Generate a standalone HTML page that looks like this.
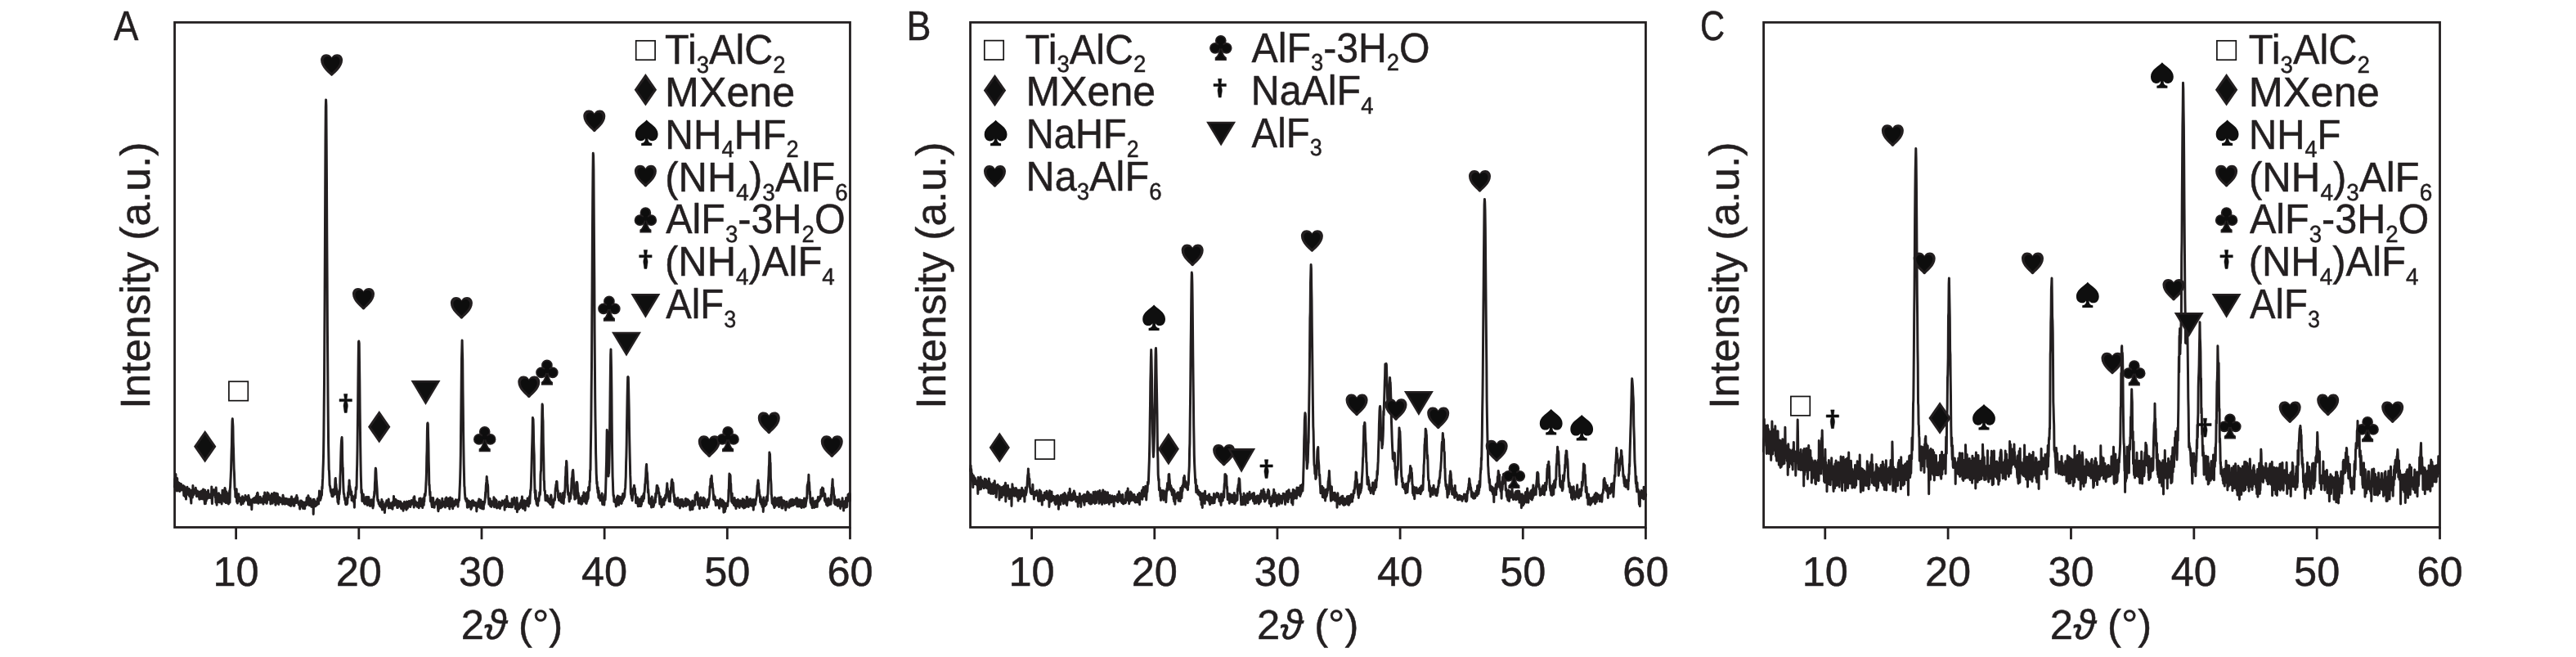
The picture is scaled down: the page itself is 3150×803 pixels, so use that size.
<!DOCTYPE html>
<html><head><meta charset="utf-8"><title>XRD</title>
<style>html,body{margin:0;padding:0;background:#fff}svg{display:block;will-change:transform}text{font-family:"Liberation Sans",sans-serif;fill:#231f20;stroke:#231f20;stroke-width:0.5px;stroke-linejoin:round;text-rendering:geometricPrecision}</style>
</head><body>
<svg width="3150" height="803" viewBox="0 0 3150 803">
<rect width="3150" height="803" fill="#fff"/>
<defs>
<g id="heart"><path d="M0,-9.5 C-1.8,-12.4 -4.2,-13.4 -6.8,-13.4 C-10.8,-13.4 -13.5,-10.2 -13.5,-6 C-13.5,-1.5 -11,2.5 -8,5.8 C-6,8.2 -3.2,10.2 -1.4,12.5 C-0.7,13.6 0.7,13.6 1.4,12.5 C3.2,10.2 6,8.2 8,5.8 C11,2.5 13.5,-1.5 13.5,-6 C13.5,-10.2 10.8,-13.4 6.8,-13.4 C4.2,-13.4 1.8,-12.4 0,-9.5Z" fill="#231f20"/><path d="M0,-9.5 C-1.8,-12.4 -4.2,-13.4 -6.8,-13.4 C-10.8,-13.4 -13.5,-10.2 -13.5,-6 C-13.5,-1.5 -11,2.5 -8,5.8 C-6,8.2 -3.2,10.2 -1.4,12.5 C-0.7,13.6 0.7,13.6 1.4,12.5 C3.2,10.2 6,8.2 8,5.8 C11,2.5 13.5,-1.5 13.5,-6 C13.5,-10.2 10.8,-13.4 6.8,-13.4 C4.2,-13.4 1.8,-12.4 0,-9.5Z" fill="#0d0d0d" transform="translate(0,-0.6) scale(0.74)"/></g>
<path id="spade" d="M0,-15.7 C-3.8,-11 -13.9,-6.8 -13.9,1.5 C-13.9,7 -10.8,9.9 -7.2,9.9 C-4.8,9.9 -2.8,8.9 -1.8,7 C-1.8,10.5 -2.8,12.2 -6.5,12.8 L-6.5,15.7 L6.5,15.7 L6.5,12.8 C2.8,12.2 1.8,10.5 1.8,7 C2.8,8.9 4.8,9.9 7.2,9.9 C10.8,9.9 13.9,7 13.9,1.5 C13.9,-6.8 3.8,-11 0,-15.7Z" fill="#0f0f0f"/>
<g id="club" fill="#0d0d0d" stroke="#231f20" stroke-width="1.7"><path d="M-1.0,-1 L1.0,-1 C1.4,6 2.6,10.4 6.2,12.4 L6.2,14.8 L-6.2,14.8 L-6.2,12.4 C-2.6,10.4 -1.4,6 -1.0,-1Z"/><circle cx="0" cy="-8.6" r="6.0"/><circle cx="-6.9" cy="0.4" r="6.0"/><circle cx="6.9" cy="0.4" r="6.0"/><circle cx="0" cy="-2.2" r="3.2" stroke="none"/></g>
<g id="dia"><path d="M0,-19.7 L13.7,0 L0,19.7 L-13.7,0Z" fill="#231f20"/><path d="M0,-14.6 L10.1,0 L0,14.6 L-10.1,0Z" fill="#0f0f0f"/></g>
<g id="tri"><path d="M-18,-14.9 L18,-14.9 L0,14.9Z" fill="#231f20"/><path d="M-13.6,-12.4 L13.6,-12.4 L0,10.2Z" fill="#0f0f0f"/></g>
<rect id="sq" x="-11.7" y="-11.7" width="23.4" height="23.4" fill="#fff" stroke="#151313" stroke-width="1.7"/>
<path id="dag" d="M-2.2,-11.4 L2.2,-11.4 L1.4,-5.3 L7.7,-5.3 L7.7,-2.2 L1.5,-2.2 C2.4,0 2.7,2 2.65,3.5 L1.5,11.4 L-1.5,11.4 L-2.65,3.5 C-2.7,2 -2.4,0 -1.5,-2.2 L-7.7,-2.2 L-7.7,-5.3 L-1.4,-5.3Z" fill="#0f0f0f" stroke="#0f0f0f" stroke-width="0.5" stroke-linejoin="round"/>
</defs>
<path d="M213.4,595.3 213.7,585.5 214.0,586.1 214.3,584.0 214.6,593.2 214.9,579.5 215.2,598.5 215.5,588.2 215.8,593.9 216.1,591.9 216.4,600.1 216.7,584.6 217.0,592.7 217.3,592.6 217.6,599.5 217.9,589.6 218.2,593.9 218.5,590.9 218.8,595.2 219.1,597.9 219.4,590.4 219.7,600.6 220.0,599.6 220.3,597.8 220.6,599.5 220.9,592.4 221.2,595.1 221.5,591.6 221.8,595.0 222.1,598.9 222.4,593.9 222.7,595.6 223.0,594.7 223.3,594.3 223.6,595.3 223.9,598.3 224.2,593.4 224.5,599.4 224.8,605.8 225.1,601.7 225.4,597.6 225.7,594.7 226.0,595.6 226.3,606.9 226.6,599.9 226.9,597.2 227.2,601.3 227.5,610.1 227.8,601.3 228.1,603.6 228.4,602.1 228.7,599.0 229.0,595.3 229.3,598.7 229.6,599.3 229.9,602.8 230.2,604.0 230.5,604.6 230.8,601.8 231.1,604.6 231.4,597.5 231.7,606.7 232.0,603.8 232.3,600.6 232.6,604.7 232.9,602.9 233.2,609.0 233.5,611.5 233.8,615.1 234.1,599.3 234.4,599.1 234.7,603.1 235.0,605.6 235.3,608.1 235.6,604.8 235.9,593.5 236.2,600.5 236.5,605.0 236.8,601.8 237.1,603.7 237.4,598.9 237.7,598.6 238.0,600.1 238.3,600.9 238.7,599.9 239.0,599.6 239.3,596.3 239.6,601.4 239.9,600.7 240.2,605.9 240.5,606.8 240.8,602.8 241.1,600.7 241.4,600.0 241.7,605.1 242.0,603.8 242.3,602.1 242.6,604.1 242.9,601.2 243.2,607.4 243.5,602.5 243.8,610.3 244.1,607.0 244.4,608.2 244.7,601.0 245.0,607.0 245.3,609.8 245.6,602.2 245.9,605.3 246.2,606.6 246.5,600.1 246.8,607.5 247.1,609.7 247.4,601.9 247.7,607.1 248.0,599.4 248.3,605.0 248.6,597.9 248.9,610.2 249.2,607.1 249.5,605.5 249.8,602.5 250.1,612.2 250.4,615.8 250.7,599.1 251.0,613.5 251.3,615.6 251.6,609.9 251.9,603.1 252.2,612.2 252.5,607.2 252.8,604.9 253.1,601.5 253.4,608.9 253.7,609.3 254.0,602.4 254.3,607.0 254.6,599.2 254.9,607.8 255.2,604.3 255.5,603.4 255.8,603.9 256.1,608.5 256.4,608.2 256.7,607.4 257.0,605.9 257.3,605.8 257.6,608.4 257.9,606.7 258.2,608.8 258.5,604.4 258.8,594.9 259.1,610.5 259.4,615.6 259.7,607.6 260.0,605.0 260.3,604.5 260.6,604.2 260.9,604.3 261.2,598.8 261.5,601.2 261.8,598.8 262.1,604.4 262.4,602.0 262.7,605.7 263.0,602.9 263.3,608.3 263.6,605.1 263.9,614.2 264.2,596.1 264.5,602.1 264.8,609.4 265.1,617.2 265.4,605.2 265.7,607.1 266.0,606.4 266.3,613.8 266.6,606.9 266.9,611.5 267.2,607.0 267.5,602.7 267.8,609.7 268.1,610.4 268.4,613.9 268.7,607.4 269.0,605.1 269.3,610.4 269.6,608.9 269.9,609.1 270.2,607.5 270.5,613.0 270.8,609.3 271.1,616.0 271.4,612.2 271.7,609.9 272.0,599.3 272.3,609.1 272.6,607.9 272.9,609.4 273.2,610.1 273.5,603.4 273.8,608.6 274.1,602.2 274.4,613.3 274.7,598.5 275.0,596.6 275.3,597.3 275.6,601.0 275.9,600.3 276.2,614.6 276.5,604.8 276.8,600.7 277.1,612.2 277.4,605.0 277.7,602.5 278.0,612.4 278.3,611.6 278.6,607.0 278.9,615.4 279.2,609.6 279.5,616.0 279.8,610.6 280.1,614.6 280.4,607.1 280.7,599.7 281.0,614.1 281.3,597.9 281.6,595.0 281.9,587.9 282.2,582.3 282.5,574.5 282.8,563.4 283.1,552.6 283.4,543.7 283.7,526.2 284.0,514.6 284.3,511.8 284.6,516.5 284.9,521.4 285.2,540.6 285.5,548.8 285.8,561.3 286.1,572.8 286.4,577.0 286.7,585.4 287.0,595.4 287.3,598.9 287.6,598.2 287.9,607.5 288.2,599.1 288.5,603.5 288.9,605.0 289.2,597.7 289.5,613.5 289.8,609.0 290.1,604.9 290.4,615.1 290.7,610.6 291.0,610.2 291.3,606.9 291.6,609.1 291.9,603.8 292.2,611.2 292.5,607.5 292.8,609.3 293.1,613.0 293.4,610.5 293.7,610.9 294.0,611.5 294.3,608.7 294.6,614.2 294.9,616.7 295.2,614.3 295.5,614.7 295.8,609.0 296.1,608.8 296.4,606.8 296.7,615.2 297.0,610.3 297.3,615.4 297.6,608.2 297.9,609.0 298.2,610.4 298.5,612.8 298.8,609.7 299.1,609.9 299.4,609.1 299.7,609.6 300.0,605.4 300.3,609.3 300.6,608.6 300.9,609.2 301.2,611.1 301.5,607.5 301.8,609.5 302.1,608.9 302.4,611.2 302.7,612.4 303.0,606.9 303.3,611.8 303.6,616.7 303.9,605.5 304.2,607.9 304.5,608.1 304.8,610.5 305.1,617.1 305.4,612.5 305.7,610.6 306.0,615.1 306.3,611.4 306.6,617.0 306.9,614.3 307.2,617.7 307.5,611.0 307.8,622.7 308.1,615.6 308.4,614.9 308.7,612.6 309.0,610.4 309.3,609.9 309.6,612.1 309.9,609.7 310.2,612.9 310.5,609.1 310.8,613.4 311.1,614.1 311.4,608.5 311.7,614.3 312.0,609.4 312.3,613.7 312.6,611.2 312.9,613.3 313.2,606.4 313.5,609.2 313.8,614.2 314.1,607.7 314.4,603.3 314.7,603.9 315.0,602.3 315.3,603.9 315.6,609.7 315.9,615.3 316.2,610.0 316.5,612.5 316.8,611.1 317.1,611.4 317.4,610.7 317.7,610.6 318.0,612.5 318.3,607.3 318.6,614.3 318.9,614.1 319.2,610.6 319.5,614.1 319.8,609.5 320.1,610.3 320.4,612.9 320.7,612.1 321.0,611.5 321.3,611.0 321.6,611.4 321.9,616.1 322.2,606.6 322.5,613.5 322.8,611.1 323.1,613.8 323.4,612.7 323.7,601.9 324.0,612.4 324.3,611.5 324.6,610.4 324.9,608.7 325.2,612.8 325.5,608.4 325.8,615.2 326.1,610.6 326.4,615.2 326.7,605.5 327.0,602.1 327.3,609.9 327.6,610.4 327.9,607.9 328.2,603.1 328.5,607.0 328.8,610.8 329.1,608.6 329.4,609.2 329.7,609.4 330.0,607.2 330.3,608.6 330.6,605.8 330.9,616.0 331.2,608.7 331.5,611.7 331.8,606.7 332.1,612.2 332.4,603.4 332.7,612.0 333.0,608.6 333.3,615.2 333.6,604.0 333.9,608.2 334.2,609.1 334.5,611.9 334.8,606.9 335.1,608.9 335.4,602.3 335.7,607.0 336.0,611.5 336.3,614.0 336.6,609.7 336.9,617.3 337.2,616.4 337.5,610.5 337.8,602.9 338.1,604.9 338.4,608.0 338.8,614.0 339.1,611.4 339.4,603.6 339.7,609.5 340.0,615.3 340.3,608.8 340.6,607.5 340.9,616.4 341.2,609.9 341.5,608.1 341.8,610.7 342.1,609.7 342.4,608.3 342.7,613.6 343.0,613.4 343.3,612.6 343.6,609.7 343.9,613.8 344.2,610.0 344.5,611.7 344.8,613.5 345.1,612.9 345.4,616.1 345.7,612.0 346.0,605.3 346.3,607.2 346.6,615.5 346.9,610.3 347.2,612.7 347.5,608.8 347.8,614.8 348.1,610.3 348.4,616.2 348.7,609.8 349.0,615.1 349.3,613.8 349.6,609.6 349.9,615.6 350.2,609.5 350.5,610.1 350.8,615.3 351.1,611.1 351.4,611.4 351.7,612.2 352.0,610.1 352.3,616.5 352.6,614.9 352.9,612.4 353.2,612.0 353.5,613.5 353.8,617.5 354.1,614.5 354.4,610.0 354.7,614.2 355.0,611.5 355.3,611.6 355.6,618.5 355.9,611.4 356.2,611.5 356.5,607.0 356.8,608.9 357.1,614.9 357.4,611.3 357.7,615.2 358.0,610.0 358.3,611.1 358.6,615.6 358.9,618.0 359.2,615.1 359.5,616.8 359.8,618.3 360.1,616.0 360.4,609.7 360.7,612.3 361.0,614.7 361.3,611.4 361.6,614.2 361.9,607.7 362.2,610.0 362.5,614.4 362.8,605.6 363.1,609.3 363.4,613.1 363.7,608.0 364.0,614.2 364.3,612.0 364.6,614.2 364.9,614.9 365.2,616.8 365.5,614.8 365.8,617.1 366.1,615.0 366.4,618.6 366.7,622.1 367.0,617.1 367.3,616.7 367.6,612.0 367.9,617.6 368.2,612.6 368.5,612.1 368.8,616.3 369.1,615.1 369.4,618.1 369.7,619.4 370.0,613.4 370.3,615.8 370.6,621.4 370.9,619.1 371.2,618.4 371.5,620.4 371.8,614.3 372.1,618.3 372.4,620.8 372.7,621.6 373.0,613.9 373.3,615.6 373.6,617.6 373.9,615.2 374.2,614.6 374.5,617.6 374.8,613.7 375.1,608.6 375.4,614.9 375.7,612.0 376.0,610.7 376.3,607.8 376.6,616.0 376.9,605.7 377.2,607.5 377.5,612.3 377.8,617.3 378.1,617.7 378.4,610.0 378.7,613.3 379.0,609.2 379.3,617.4 379.6,609.5 379.9,613.9 380.2,617.7 380.5,613.8 380.8,619.3 381.1,611.9 381.4,615.9 381.7,617.7 382.0,614.7 382.3,619.8 382.6,617.4 382.9,610.5 383.2,628.4 383.5,617.6 383.8,615.5 384.1,610.2 384.4,614.4 384.7,612.1 385.0,615.3 385.3,614.1 385.6,618.8 385.9,613.4 386.2,614.8 386.5,614.6 386.8,613.2 387.1,613.2 387.4,617.4 387.7,616.3 388.0,611.6 388.3,609.6 388.6,612.4 389.0,615.7 389.3,611.2 389.6,616.0 389.9,607.1 390.2,609.3 390.5,600.0 390.8,605.5 391.1,605.8 391.4,607.9 391.7,611.3 392.0,605.5 392.3,609.6 392.6,606.4 392.9,606.6 393.2,600.8 393.5,605.1 393.8,595.0 394.1,597.1 394.4,588.5 394.7,584.4 395.0,573.8 395.3,566.1 395.6,553.7 395.9,531.0 396.2,498.0 396.5,469.0 396.8,417.9 397.1,363.7 397.4,300.2 397.7,231.4 398.0,169.3 398.3,130.9 398.6,122.0 398.9,129.0 399.2,174.6 399.5,224.9 399.8,288.0 400.1,338.6 400.4,400.3 400.7,442.1 401.0,484.3 401.3,514.7 401.6,542.2 401.9,558.2 402.2,574.1 402.5,575.8 402.8,583.2 403.1,593.0 403.4,593.5 403.7,595.1 404.0,597.0 404.3,600.5 404.6,598.1 404.9,602.5 405.2,598.7 405.5,601.0 405.8,606.0 406.1,606.7 406.4,600.2 406.7,606.7 407.0,600.9 407.3,606.7 407.6,598.2 407.9,600.5 408.2,601.7 408.5,601.5 408.8,604.4 409.1,599.7 409.4,598.1 409.7,593.0 410.0,585.3 410.3,584.5 410.6,590.8 410.9,591.7 411.2,596.0 411.5,596.9 411.8,604.7 412.1,598.9 412.4,608.2 412.7,607.7 413.0,613.7 413.3,610.3 413.6,610.8 413.9,615.8 414.2,607.4 414.5,610.4 414.8,601.2 415.1,604.4 415.4,600.9 415.7,596.2 416.0,582.7 416.3,577.1 416.6,566.4 416.9,554.4 417.2,545.1 417.5,539.1 417.8,536.3 418.1,534.5 418.4,541.0 418.7,562.7 419.0,571.8 419.3,571.7 419.6,587.0 419.9,595.2 420.2,601.6 420.5,604.0 420.8,603.5 421.1,607.9 421.4,608.3 421.7,611.2 422.0,610.6 422.3,611.5 422.6,615.6 422.9,616.6 423.2,609.1 423.5,611.5 423.8,610.3 424.1,616.4 424.4,611.7 424.7,615.5 425.0,608.1 425.3,608.1 425.6,601.7 425.9,608.0 426.2,600.1 426.5,594.0 426.8,594.4 427.1,587.0 427.4,593.2 427.7,593.8 428.0,595.5 428.3,601.4 428.6,598.1 428.9,604.2 429.2,604.9 429.5,605.3 429.8,600.8 430.1,611.6 430.4,607.7 430.7,609.9 431.0,606.1 431.3,611.2 431.6,610.7 431.9,610.5 432.2,609.9 432.5,613.6 432.8,613.2 433.1,612.2 433.4,620.2 433.7,607.3 434.0,607.5 434.3,604.9 434.6,608.7 434.9,603.9 435.2,595.8 435.5,597.9 435.8,598.1 436.1,594.9 436.4,577.4 436.7,567.0 437.0,550.2 437.3,524.8 437.6,501.0 437.9,469.4 438.2,442.2 438.5,417.9 438.8,417.0 439.2,419.4 439.5,443.9 439.8,466.1 440.1,499.0 440.4,522.8 440.7,545.6 441.0,565.0 441.3,581.0 441.6,590.2 441.9,602.4 442.2,598.3 442.5,601.5 442.8,612.4 443.1,610.4 443.4,603.4 443.7,611.7 444.0,611.3 444.3,604.0 444.6,610.0 444.9,611.4 445.2,614.1 445.5,615.1 445.8,612.8 446.1,616.1 446.4,612.7 446.7,610.6 447.0,610.6 447.3,615.4 447.6,607.4 447.9,615.8 448.2,610.0 448.5,612.3 448.8,615.1 449.1,617.4 449.4,607.4 449.7,611.1 450.0,614.0 450.3,612.0 450.6,616.8 450.9,607.5 451.2,615.5 451.5,615.8 451.8,614.7 452.1,618.2 452.4,610.9 452.7,618.5 453.0,612.8 453.3,617.5 453.6,614.2 453.9,618.0 454.2,617.9 454.5,610.8 454.8,615.0 455.1,615.2 455.4,614.7 455.7,612.8 456.0,620.9 456.3,615.1 456.6,618.5 456.9,610.4 457.2,606.7 457.5,607.4 457.8,600.8 458.1,604.7 458.4,591.2 458.7,587.1 459.0,576.4 459.3,572.3 459.6,573.1 459.9,577.9 460.2,585.5 460.5,589.2 460.8,593.9 461.1,598.1 461.4,605.4 461.7,610.5 462.0,612.1 462.3,611.9 462.6,611.0 462.9,614.0 463.2,616.0 463.5,614.5 463.8,615.4 464.1,614.9 464.4,618.5 464.7,614.2 465.0,616.1 465.3,616.7 465.6,617.6 465.9,619.9 466.2,617.2 466.5,617.0 466.8,610.5 467.1,617.4 467.4,623.1 467.7,613.4 468.0,613.2 468.3,616.2 468.6,620.6 468.9,619.4 469.2,616.5 469.5,618.3 469.8,622.0 470.1,620.9 470.4,626.6 470.7,621.9 471.0,619.6 471.3,620.1 471.6,616.6 471.9,614.2 472.2,617.5 472.5,618.1 472.8,611.8 473.1,614.3 473.4,614.5 473.7,616.4 474.0,614.5 474.3,616.7 474.6,615.6 474.9,618.8 475.2,610.1 475.5,621.1 475.8,620.6 476.1,616.5 476.4,618.7 476.7,618.8 477.0,614.7 477.3,617.8 477.6,619.9 477.9,618.5 478.2,620.9 478.5,617.8 478.8,617.7 479.1,614.8 479.4,615.9 479.7,615.4 480.0,622.2 480.3,617.3 480.6,613.2 480.9,617.6 481.2,615.6 481.5,606.4 481.8,617.7 482.1,611.1 482.4,617.8 482.7,612.7 483.0,610.9 483.3,616.9 483.6,610.3 483.9,613.4 484.2,615.3 484.5,616.4 484.8,616.8 485.1,614.2 485.4,611.7 485.7,620.6 486.0,612.7 486.3,620.6 486.6,613.6 486.9,619.0 487.2,619.0 487.5,612.5 487.8,617.3 488.1,618.7 488.4,618.7 488.7,615.9 489.1,617.6 489.4,615.5 489.7,613.0 490.0,620.0 490.3,615.2 490.6,621.6 490.9,619.4 491.2,614.9 491.5,617.5 491.8,617.4 492.1,615.8 492.4,620.4 492.7,617.5 493.0,624.3 493.3,621.8 493.6,616.2 493.9,618.7 494.2,617.8 494.5,613.3 494.8,620.9 495.1,620.7 495.4,620.4 495.7,615.8 496.0,620.6 496.3,616.5 496.6,620.2 496.9,623.1 497.2,617.9 497.5,613.0 497.8,616.5 498.1,619.5 498.4,621.2 498.7,613.5 499.0,616.2 499.3,617.3 499.6,617.6 499.9,618.8 500.2,612.6 500.5,614.1 500.8,618.7 501.1,616.8 501.4,617.2 501.7,619.6 502.0,616.5 502.3,617.9 502.6,615.2 502.9,611.7 503.2,611.6 503.5,615.7 503.8,614.5 504.1,612.9 504.4,616.0 504.7,612.1 505.0,615.5 505.3,615.2 505.6,612.7 505.9,608.0 506.2,620.1 506.5,616.4 506.8,606.8 507.1,614.0 507.4,616.7 507.7,614.9 508.0,617.6 508.3,612.8 508.6,616.7 508.9,616.0 509.2,615.7 509.5,615.5 509.8,616.9 510.1,619.3 510.4,614.6 510.7,615.1 511.0,617.0 511.3,616.2 511.6,617.8 511.9,619.0 512.2,620.8 512.5,616.3 512.8,609.4 513.1,616.4 513.4,617.8 513.7,616.0 514.0,616.2 514.3,608.9 514.6,618.4 514.9,615.8 515.2,612.1 515.5,614.1 515.8,614.1 516.1,618.5 516.4,618.0 516.7,620.5 517.0,617.1 517.3,610.0 517.6,609.1 517.9,616.6 518.2,617.4 518.5,611.1 518.8,613.1 519.1,605.9 519.4,603.7 519.7,605.1 520.0,605.9 520.3,602.5 520.6,599.0 520.9,591.5 521.2,586.2 521.5,576.9 521.8,558.6 522.1,550.1 522.4,527.7 522.7,517.8 523.0,517.0 523.3,518.6 523.6,533.9 523.9,542.1 524.2,563.3 524.5,573.6 524.8,592.9 525.1,592.3 525.4,599.8 525.7,605.5 526.0,601.1 526.3,612.0 526.6,613.0 526.9,612.8 527.2,608.2 527.5,608.7 527.8,615.9 528.1,618.1 528.4,619.6 528.7,611.7 529.0,611.3 529.3,613.8 529.6,608.4 529.9,612.9 530.2,617.6 530.5,620.1 530.8,615.9 531.1,620.3 531.4,616.4 531.7,615.7 532.0,614.5 532.3,615.6 532.6,614.2 532.9,614.6 533.2,613.0 533.5,616.1 533.8,615.5 534.1,610.9 534.4,615.1 534.7,613.3 535.0,609.7 535.3,618.1 535.6,621.8 535.9,624.7 536.2,622.5 536.5,615.0 536.8,621.7 537.1,621.6 537.4,611.6 537.7,620.5 538.0,619.3 538.3,617.4 538.6,617.3 538.9,616.1 539.3,620.7 539.6,613.9 539.9,614.4 540.2,614.9 540.5,615.8 540.8,609.2 541.1,619.3 541.4,615.5 541.7,616.6 542.0,615.3 542.3,614.0 542.6,613.4 542.9,614.7 543.2,614.7 543.5,617.8 543.8,615.1 544.1,613.4 544.4,620.1 544.7,609.5 545.0,609.3 545.3,614.7 545.6,612.9 545.9,607.9 546.2,612.8 546.5,611.7 546.8,618.0 547.1,612.8 547.4,618.6 547.7,617.2 548.0,615.5 548.3,616.5 548.6,617.9 548.9,609.2 549.2,617.5 549.5,615.1 549.8,621.9 550.1,613.8 550.4,619.7 550.7,608.0 551.0,618.8 551.3,617.2 551.6,615.5 551.9,615.9 552.2,615.2 552.5,617.2 552.8,615.1 553.1,609.5 553.4,614.3 553.7,621.8 554.0,614.7 554.3,615.5 554.6,613.2 554.9,615.4 555.2,615.6 555.5,614.4 555.8,618.2 556.1,612.5 556.4,615.0 556.7,616.9 557.0,614.2 557.3,610.8 557.6,616.2 557.9,611.1 558.2,612.6 558.5,611.3 558.8,613.6 559.1,612.6 559.4,612.4 559.7,616.0 560.0,619.2 560.3,611.9 560.6,614.0 560.9,610.2 561.2,610.2 561.5,611.5 561.8,605.2 562.1,598.2 562.4,592.1 562.7,583.0 563.0,571.3 563.3,555.7 563.6,525.1 563.9,498.4 564.2,469.1 564.5,438.7 564.8,428.0 565.1,416.0 565.4,429.9 565.7,439.7 566.0,476.1 566.3,499.3 566.6,527.8 566.9,549.3 567.2,567.7 567.5,579.9 567.8,594.2 568.1,595.4 568.4,602.8 568.7,606.0 569.0,609.8 569.3,609.2 569.6,610.8 569.9,612.2 570.2,611.2 570.5,613.2 570.8,609.6 571.1,611.0 571.4,620.2 571.7,614.7 572.0,613.0 572.3,620.1 572.6,615.5 572.9,614.3 573.2,611.9 573.5,619.2 573.8,613.3 574.1,615.0 574.4,618.7 574.7,617.0 575.0,615.8 575.3,615.1 575.6,619.2 575.9,622.4 576.2,613.2 576.5,616.5 576.8,620.7 577.1,617.8 577.4,612.1 577.7,612.9 578.0,612.5 578.3,611.7 578.6,612.8 578.9,615.8 579.2,613.2 579.5,618.0 579.8,615.5 580.1,613.7 580.4,617.7 580.7,615.8 581.0,615.5 581.3,618.0 581.6,616.6 581.9,614.6 582.2,618.2 582.5,616.5 582.8,625.0 583.1,619.3 583.4,619.5 583.7,619.9 584.0,615.9 584.3,619.7 584.6,615.4 584.9,612.5 585.2,613.2 585.5,616.6 585.8,609.9 586.1,615.5 586.4,612.5 586.7,617.1 587.0,612.4 587.3,620.8 587.6,617.4 587.9,611.1 588.2,621.0 588.5,615.0 588.8,613.7 589.1,613.1 589.5,618.5 589.8,621.8 590.1,615.3 590.4,614.0 590.7,613.5 591.0,621.7 591.3,621.9 591.6,614.9 591.9,617.0 592.2,614.3 592.5,612.7 592.8,614.2 593.1,610.1 593.4,606.8 593.7,601.3 594.0,600.9 594.3,593.3 594.6,590.6 594.9,588.4 595.2,582.5 595.5,585.9 595.8,587.9 596.1,592.3 596.4,592.0 596.7,595.5 597.0,607.9 597.3,609.5 597.6,611.2 597.9,616.3 598.2,613.5 598.5,613.3 598.8,616.2 599.1,609.4 599.4,612.5 599.7,618.7 600.0,616.6 600.3,612.4 600.6,618.5 600.9,619.4 601.2,618.2 601.5,615.8 601.8,613.0 602.1,615.9 602.4,616.7 602.7,614.0 603.0,616.9 603.3,615.7 603.6,615.5 603.9,607.8 604.2,617.6 604.5,619.7 604.8,612.9 605.1,609.6 605.4,616.5 605.7,613.2 606.0,611.8 606.3,619.1 606.6,611.1 606.9,618.1 607.2,612.0 607.5,621.0 607.8,618.2 608.1,615.9 608.4,617.4 608.7,619.0 609.0,620.0 609.3,620.1 609.6,619.3 609.9,616.0 610.2,619.7 610.5,613.3 610.8,620.6 611.1,620.0 611.4,621.5 611.7,615.0 612.0,617.2 612.3,619.0 612.6,616.9 612.9,614.2 613.2,616.1 613.5,615.0 613.8,617.6 614.1,612.1 614.4,614.9 614.7,614.6 615.0,615.9 615.3,613.1 615.6,613.7 615.9,613.2 616.2,613.7 616.5,613.8 616.8,613.0 617.1,623.3 617.4,611.7 617.7,610.8 618.0,611.9 618.3,612.1 618.6,614.2 618.9,618.7 619.2,619.5 619.5,615.1 619.8,606.6 620.1,616.3 620.4,611.4 620.7,614.5 621.0,612.8 621.3,618.2 621.6,615.0 621.9,619.5 622.2,618.6 622.5,616.2 622.8,617.0 623.1,619.5 623.4,615.2 623.7,619.2 624.0,616.1 624.3,616.8 624.6,618.3 624.9,619.8 625.2,617.0 625.5,615.3 625.8,617.1 626.1,609.7 626.4,619.7 626.7,610.2 627.0,617.3 627.3,612.7 627.6,616.3 627.9,614.4 628.2,615.9 628.5,612.5 628.8,608.2 629.1,616.5 629.4,613.3 629.7,613.1 630.0,612.9 630.3,621.7 630.6,613.6 630.9,616.7 631.2,612.2 631.5,621.0 631.8,614.6 632.1,608.4 632.4,625.8 632.7,614.0 633.0,622.0 633.3,620.5 633.6,620.5 633.9,617.8 634.2,619.1 634.5,622.3 634.8,617.1 635.1,618.4 635.4,620.1 635.7,616.9 636.0,614.8 636.3,620.4 636.6,616.5 636.9,614.7 637.2,612.4 637.5,611.5 637.8,617.3 638.1,617.3 638.4,607.0 638.7,611.8 639.0,616.7 639.4,621.4 639.7,620.6 640.0,617.0 640.3,618.7 640.6,613.1 640.9,617.7 641.2,611.8 641.5,614.4 641.8,617.5 642.1,623.7 642.4,619.3 642.7,617.8 643.0,616.3 643.3,612.4 643.6,618.2 643.9,614.8 644.2,616.2 644.5,612.1 644.8,614.8 645.1,609.0 645.4,615.0 645.7,617.2 646.0,615.5 646.3,618.9 646.6,612.7 646.9,612.7 647.2,612.1 647.5,606.7 647.8,615.3 648.1,610.0 648.4,604.0 648.7,599.0 649.0,599.6 649.3,594.8 649.6,584.9 649.9,575.3 650.2,562.4 650.5,549.8 650.8,540.5 651.1,528.5 651.4,510.5 651.7,512.8 652.0,512.2 652.3,521.1 652.6,540.2 652.9,549.8 653.2,556.2 653.5,580.5 653.8,592.4 654.1,602.5 654.4,600.3 654.7,610.0 655.0,599.5 655.3,606.2 655.6,612.3 655.9,612.8 656.2,616.1 656.5,615.3 656.8,612.3 657.1,617.6 657.4,614.9 657.7,618.1 658.0,609.6 658.3,612.5 658.6,609.3 658.9,612.3 659.2,608.0 659.5,606.6 659.8,601.7 660.1,605.0 660.4,604.7 660.7,600.1 661.0,580.8 661.3,576.1 661.6,575.6 661.9,553.5 662.2,536.6 662.5,523.4 662.8,505.5 663.1,494.1 663.4,495.4 663.7,510.7 664.0,514.9 664.3,540.7 664.6,552.6 664.9,567.8 665.2,586.9 665.5,588.2 665.8,599.5 666.1,600.2 666.4,599.9 666.7,605.9 667.0,611.6 667.3,608.3 667.6,611.5 667.9,610.9 668.2,611.0 668.5,610.0 668.8,612.1 669.1,605.4 669.4,610.6 669.7,606.2 670.0,612.8 670.3,612.9 670.6,609.0 670.9,614.0 671.2,612.7 671.5,612.4 671.8,610.5 672.1,613.4 672.4,615.5 672.7,610.4 673.0,610.1 673.3,616.8 673.6,605.8 673.9,605.1 674.2,607.9 674.5,614.5 674.8,614.7 675.1,616.1 675.4,615.0 675.7,619.9 676.0,620.1 676.3,618.7 676.6,611.2 676.9,615.8 677.2,611.4 677.5,611.9 677.8,609.3 678.1,611.3 678.4,611.3 678.7,607.6 679.0,600.9 679.3,596.7 679.6,595.8 679.9,592.3 680.2,594.3 680.5,588.6 680.8,588.3 681.1,589.1 681.4,595.2 681.7,599.8 682.0,599.2 682.3,600.2 682.6,608.2 682.9,607.2 683.2,606.0 683.5,611.5 683.8,609.5 684.1,604.5 684.4,611.2 684.7,610.4 685.0,603.7 685.3,603.2 685.6,610.9 685.9,613.2 686.2,613.4 686.5,607.5 686.8,611.0 687.1,614.3 687.4,607.1 687.7,612.0 688.0,612.0 688.3,613.8 688.6,602.4 688.9,610.2 689.2,615.5 689.6,606.2 689.9,606.0 690.2,608.2 690.5,600.0 690.8,602.3 691.1,595.4 691.4,582.7 691.7,581.6 692.0,570.5 692.3,573.7 692.6,563.5 692.9,564.7 693.2,571.2 693.5,578.2 693.8,591.3 694.1,592.8 694.4,598.6 694.7,604.8 695.0,601.8 695.3,603.8 695.6,604.0 695.9,609.9 696.2,613.0 696.5,608.8 696.8,606.1 697.1,606.4 697.4,604.2 697.7,609.5 698.0,602.6 698.3,603.4 698.6,597.6 698.9,591.5 699.2,584.6 699.5,584.4 699.8,582.5 700.1,576.7 700.4,575.5 700.7,574.5 701.0,579.2 701.3,584.3 701.6,594.0 701.9,604.7 702.2,601.6 702.5,600.3 702.8,610.2 703.1,603.4 703.4,607.7 703.7,602.8 704.0,601.9 704.3,609.3 704.6,592.2 704.9,589.4 705.2,590.5 705.5,589.2 705.8,590.1 706.1,592.6 706.4,600.5 706.7,605.7 707.0,602.2 707.3,604.0 707.6,615.1 707.9,605.9 708.2,613.5 708.5,613.2 708.8,608.7 709.1,615.0 709.4,609.3 709.7,609.6 710.0,608.7 710.3,615.8 710.6,611.6 710.9,616.2 711.2,609.7 711.5,613.7 711.8,615.5 712.1,610.0 712.4,605.9 712.7,607.7 713.0,612.2 713.3,610.1 713.6,606.2 713.9,601.7 714.2,609.6 714.5,612.7 714.8,612.9 715.1,609.3 715.4,607.6 715.7,605.9 716.0,606.6 716.3,603.2 716.6,615.2 716.9,608.0 717.2,615.4 717.5,607.2 717.8,601.8 718.1,612.5 718.4,603.3 718.7,604.0 719.0,609.8 719.3,608.2 719.6,595.8 719.9,600.7 720.2,595.3 720.5,598.2 720.8,599.3 721.1,588.0 721.4,589.3 721.7,574.5 722.0,574.7 722.3,551.7 722.6,534.7 722.9,513.0 723.2,476.7 723.5,448.1 723.8,395.2 724.1,351.0 724.4,293.5 724.7,249.6 725.0,210.4 725.3,187.3 725.6,190.1 725.9,206.9 726.2,254.1 726.5,298.3 726.8,340.2 727.1,405.1 727.4,444.8 727.7,486.4 728.0,511.9 728.3,529.6 728.6,553.9 728.9,564.9 729.2,578.5 729.5,584.1 729.8,591.4 730.1,588.7 730.4,597.1 730.7,597.3 731.0,602.2 731.3,595.8 731.6,600.8 731.9,608.2 732.2,599.7 732.5,606.5 732.8,609.0 733.1,605.2 733.4,608.9 733.7,609.5 734.0,611.7 734.3,606.0 734.6,607.3 734.9,610.9 735.2,606.5 735.5,609.6 735.8,607.7 736.1,603.0 736.4,611.8 736.7,616.4 737.0,609.8 737.3,611.2 737.6,609.4 737.9,608.3 738.2,610.9 738.5,613.7 738.8,617.1 739.1,612.3 739.4,606.2 739.8,603.9 740.1,611.0 740.4,604.7 740.7,596.0 741.0,585.4 741.3,573.2 741.6,563.6 741.9,543.0 742.2,525.5 742.5,527.3 742.8,529.6 743.1,539.4 743.4,557.2 743.7,566.5 744.0,582.1 744.3,578.6 744.6,578.2 744.9,568.1 745.2,556.0 745.5,533.6 745.8,508.6 746.1,480.9 746.4,455.3 746.7,434.0 747.0,427.1 747.3,439.6 747.6,454.6 747.9,479.0 748.2,516.4 748.5,546.3 748.8,563.4 749.1,582.2 749.4,589.0 749.7,599.0 750.0,605.0 750.3,606.7 750.6,605.4 750.9,613.3 751.2,609.4 751.5,612.5 751.8,611.4 752.1,613.5 752.4,614.2 752.7,610.9 753.0,614.6 753.3,619.0 753.6,618.5 753.9,614.6 754.2,617.5 754.5,607.8 754.8,616.6 755.1,612.0 755.4,606.0 755.7,612.1 756.0,614.5 756.3,609.0 756.6,617.3 756.9,615.4 757.2,607.0 757.5,614.3 757.8,611.6 758.1,609.6 758.4,610.5 758.7,610.2 759.0,607.8 759.3,610.1 759.6,613.5 759.9,615.4 760.2,615.0 760.5,607.9 760.8,608.9 761.1,606.1 761.4,612.0 761.7,603.4 762.0,604.3 762.3,606.8 762.6,609.6 762.9,607.5 763.2,608.0 763.5,607.0 763.8,605.9 764.1,599.3 764.4,597.9 764.7,595.9 765.0,588.4 765.3,582.3 765.6,565.5 765.9,557.4 766.2,543.5 766.5,520.8 766.8,503.8 767.1,485.8 767.4,471.6 767.7,460.7 768.0,460.5 768.3,461.4 768.6,473.3 768.9,487.2 769.2,501.0 769.5,524.4 769.8,540.0 770.1,554.5 770.4,567.0 770.7,580.4 771.0,586.9 771.3,601.4 771.6,604.3 771.9,601.2 772.2,606.3 772.5,608.8 772.8,605.2 773.1,611.8 773.4,608.5 773.7,604.4 774.0,597.7 774.3,598.5 774.6,600.6 774.9,596.1 775.2,596.0 775.5,593.3 775.8,597.7 776.1,597.7 776.4,597.0 776.7,603.6 777.0,605.3 777.3,604.0 777.6,614.8 777.9,610.8 778.2,610.5 778.5,614.2 778.8,611.7 779.1,614.7 779.4,607.9 779.7,609.7 780.0,615.3 780.3,618.8 780.6,614.7 780.9,615.7 781.2,612.8 781.5,615.7 781.8,613.7 782.1,615.7 782.4,618.6 782.7,609.8 783.0,616.7 783.3,613.2 783.6,613.2 783.9,618.4 784.2,615.0 784.5,616.4 784.8,607.1 785.1,610.8 785.4,610.0 785.7,609.0 786.0,611.7 786.3,612.5 786.6,605.4 786.9,605.1 787.2,603.2 787.5,609.5 787.8,602.5 788.1,601.5 788.4,597.7 788.7,591.7 789.0,591.3 789.3,586.0 789.7,582.3 790.0,573.6 790.3,569.8 790.6,567.5 790.9,575.3 791.2,577.1 791.5,578.7 791.8,586.5 792.1,588.2 792.4,602.0 792.7,598.1 793.0,602.6 793.3,605.7 793.6,614.6 793.9,611.3 794.2,615.4 794.5,612.3 794.8,609.3 795.1,616.1 795.4,611.9 795.7,609.9 796.0,613.0 796.3,616.4 796.6,620.1 796.9,609.9 797.2,607.1 797.5,616.8 797.8,614.5 798.1,611.6 798.4,614.6 798.7,615.6 799.0,619.5 799.3,613.1 799.6,617.7 799.9,612.2 800.2,611.9 800.5,614.6 800.8,609.1 801.1,607.8 801.4,614.0 801.7,603.2 802.0,608.2 802.3,604.9 802.6,602.7 802.9,597.6 803.2,593.4 803.5,596.1 803.8,593.5 804.1,595.5 804.4,597.6 804.7,596.2 805.0,596.7 805.3,602.9 805.6,601.4 805.9,602.5 806.2,606.1 806.5,609.3 806.8,616.1 807.1,615.3 807.4,606.8 807.7,607.1 808.0,612.0 808.3,614.0 808.6,612.1 808.9,619.8 809.2,616.8 809.5,618.5 809.8,612.1 810.1,610.7 810.4,610.3 810.7,613.5 811.0,609.9 811.3,612.0 811.6,612.6 811.9,616.8 812.2,611.9 812.5,608.3 812.8,610.6 813.1,611.6 813.4,611.6 813.7,605.3 814.0,608.6 814.3,609.1 814.6,604.3 814.9,601.7 815.2,597.8 815.5,596.0 815.8,590.8 816.1,599.3 816.4,597.0 816.7,600.0 817.0,602.9 817.3,600.7 817.6,608.3 817.9,606.9 818.2,612.6 818.5,609.2 818.8,610.0 819.1,607.9 819.4,612.9 819.7,600.2 820.0,603.5 820.3,602.0 820.6,595.5 820.9,595.0 821.2,587.7 821.5,592.8 821.8,586.0 822.1,591.1 822.4,589.8 822.7,589.8 823.0,590.0 823.3,595.6 823.6,601.6 823.9,602.8 824.2,607.5 824.5,604.8 824.8,614.0 825.1,609.3 825.4,608.4 825.7,616.0 826.0,616.8 826.3,612.7 826.6,611.8 826.9,616.6 827.2,611.1 827.5,617.1 827.8,609.8 828.1,614.1 828.4,614.4 828.7,618.3 829.0,608.6 829.3,615.3 829.6,614.3 829.9,614.9 830.2,612.3 830.5,611.3 830.8,614.3 831.1,615.2 831.4,620.9 831.7,616.5 832.0,616.1 832.3,618.1 832.6,610.5 832.9,617.6 833.2,618.0 833.5,617.6 833.8,613.4 834.1,610.4 834.4,611.1 834.7,614.9 835.0,615.9 835.3,618.3 835.6,619.1 835.9,617.1 836.2,614.4 836.5,615.2 836.8,613.6 837.1,617.7 837.4,616.2 837.7,614.9 838.0,610.3 838.3,617.7 838.6,609.6 838.9,618.6 839.2,618.1 839.5,610.0 839.9,615.1 840.2,611.3 840.5,614.8 840.8,617.0 841.1,614.7 841.4,610.8 841.7,616.0 842.0,616.1 842.3,615.3 842.6,612.3 842.9,614.7 843.2,617.0 843.5,615.9 843.8,623.3 844.1,617.6 844.4,616.3 844.7,618.7 845.0,613.7 845.3,618.7 845.6,622.6 845.9,614.6 846.2,618.4 846.5,619.8 846.8,611.9 847.1,622.5 847.4,613.7 847.7,615.7 848.0,617.6 848.3,615.2 848.6,618.0 848.9,615.3 849.2,616.0 849.5,613.6 849.8,617.1 850.1,604.9 850.4,611.4 850.7,608.0 851.0,604.6 851.3,603.9 851.6,603.7 851.9,606.7 852.2,601.8 852.5,604.4 852.8,606.6 853.1,603.1 853.4,611.6 853.7,617.1 854.0,608.4 854.3,614.7 854.6,611.8 854.9,615.3 855.2,613.7 855.5,621.8 855.8,614.0 856.1,617.8 856.4,617.2 856.7,611.7 857.0,608.1 857.3,616.7 857.6,617.4 857.9,612.9 858.2,612.5 858.5,617.7 858.8,617.3 859.1,617.7 859.4,615.5 859.7,612.2 860.0,610.8 860.3,608.3 860.6,614.5 860.9,620.8 861.2,616.1 861.5,614.3 861.8,609.7 862.1,612.5 862.4,614.7 862.7,614.2 863.0,618.0 863.3,614.8 863.6,617.8 863.9,615.4 864.2,615.2 864.5,619.9 864.8,613.3 865.1,614.5 865.4,610.8 865.7,614.6 866.0,616.8 866.3,614.3 866.6,613.0 866.9,612.2 867.2,608.6 867.5,606.4 867.8,602.3 868.1,594.6 868.4,596.1 868.7,594.1 869.0,585.3 869.3,586.6 869.6,588.1 869.9,583.4 870.2,581.5 870.5,588.0 870.8,595.6 871.1,590.5 871.4,596.0 871.7,596.7 872.0,600.4 872.3,604.6 872.6,610.5 872.9,605.1 873.2,606.6 873.5,607.3 873.8,607.6 874.1,607.0 874.4,609.9 874.7,612.9 875.0,613.8 875.3,617.7 875.6,611.5 875.9,611.6 876.2,611.7 876.5,614.7 876.8,613.5 877.1,616.5 877.4,611.5 877.7,617.1 878.0,617.3 878.3,613.6 878.6,612.6 878.9,615.3 879.2,612.3 879.5,621.3 879.8,615.4 880.1,617.6 880.4,611.1 880.7,609.8 881.0,617.7 881.3,617.4 881.6,613.5 881.9,614.2 882.2,613.9 882.5,616.8 882.8,619.0 883.1,611.1 883.4,617.7 883.7,613.5 884.0,614.8 884.3,616.3 884.6,612.6 884.9,626.3 885.2,625.1 885.5,619.9 885.8,619.7 886.1,614.4 886.4,625.5 886.7,618.0 887.0,617.7 887.3,622.0 887.6,618.9 887.9,615.4 888.2,617.0 888.5,616.1 888.8,617.0 889.1,618.0 889.4,617.1 889.7,618.4 890.1,612.6 890.4,613.4 890.7,612.4 891.0,598.5 891.3,599.0 891.6,586.9 891.9,579.1 892.2,584.0 892.5,580.6 892.8,580.2 893.1,581.6 893.4,594.0 893.7,591.1 894.0,601.4 894.3,607.3 894.6,613.2 894.9,606.4 895.2,602.9 895.5,613.8 895.8,614.9 896.1,614.6 896.4,611.4 896.7,614.2 897.0,609.5 897.3,615.9 897.6,617.6 897.9,612.5 898.2,608.6 898.5,614.7 898.8,614.5 899.1,614.9 899.4,619.3 899.7,615.5 900.0,621.6 900.3,616.1 900.6,611.5 900.9,618.7 901.2,614.9 901.5,613.8 901.8,616.3 902.1,615.9 902.4,610.5 902.7,612.7 903.0,619.0 903.3,615.7 903.6,617.0 903.9,618.0 904.2,620.4 904.5,612.6 904.8,612.4 905.1,611.8 905.4,613.0 905.7,612.3 906.0,615.5 906.3,615.6 906.6,618.2 906.9,612.8 907.2,614.8 907.5,618.2 907.8,619.4 908.1,609.8 908.4,615.4 908.7,616.5 909.0,610.7 909.3,618.6 909.6,621.0 909.9,610.9 910.2,612.0 910.5,619.9 910.8,620.4 911.1,612.5 911.4,613.1 911.7,618.0 912.0,614.6 912.3,613.2 912.6,619.3 912.9,614.5 913.2,607.2 913.5,613.4 913.8,607.8 914.1,614.6 914.4,615.5 914.7,613.9 915.0,615.8 915.3,619.4 915.6,615.7 915.9,612.4 916.2,610.4 916.5,614.9 916.8,611.1 917.1,610.1 917.4,613.6 917.7,609.8 918.0,611.8 918.3,618.1 918.6,615.4 918.9,616.4 919.2,617.6 919.5,611.6 919.8,618.5 920.1,617.9 920.4,617.6 920.7,618.6 921.0,610.4 921.3,623.3 921.6,616.1 921.9,612.3 922.2,617.1 922.5,612.5 922.8,616.4 923.1,617.4 923.4,610.6 923.7,616.4 924.0,612.7 924.3,611.7 924.6,609.8 924.9,607.9 925.2,607.2 925.5,603.7 925.8,599.8 926.1,593.3 926.4,594.5 926.7,590.4 927.0,587.0 927.3,592.1 927.6,590.8 927.9,599.5 928.2,598.3 928.5,601.3 928.8,606.3 929.1,604.9 929.4,607.6 929.7,613.9 930.0,607.2 930.3,609.8 930.6,612.9 930.9,616.3 931.2,614.8 931.5,610.4 931.8,611.1 932.1,619.4 932.4,614.9 932.7,611.7 933.0,612.0 933.3,625.4 933.6,617.5 933.9,607.9 934.2,611.5 934.5,615.2 934.8,611.9 935.1,616.4 935.4,618.4 935.7,612.8 936.0,613.7 936.3,612.1 936.6,615.2 936.9,616.8 937.2,614.5 937.5,607.3 937.8,612.2 938.1,606.7 938.4,612.2 938.7,605.3 939.0,603.2 939.3,594.4 939.6,587.5 940.0,580.8 940.3,570.6 940.6,567.6 940.9,552.9 941.2,556.6 941.5,554.9 941.8,565.7 942.1,565.6 942.4,584.5 942.7,587.9 943.0,592.2 943.3,604.1 943.6,605.5 943.9,610.0 944.2,615.1 944.5,609.1 944.8,611.1 945.1,614.4 945.4,616.5 945.7,612.8 946.0,612.8 946.3,618.1 946.6,619.0 946.9,620.5 947.2,615.2 947.5,608.0 947.8,618.0 948.1,618.8 948.4,611.6 948.7,616.5 949.0,616.9 949.3,616.9 949.6,614.1 949.9,615.6 950.2,617.0 950.5,609.1 950.8,617.5 951.1,613.3 951.4,616.8 951.7,612.0 952.0,608.7 952.3,618.0 952.6,619.5 952.9,608.3 953.2,610.2 953.5,614.7 953.8,611.1 954.1,617.0 954.4,612.1 954.7,613.0 955.0,615.4 955.3,607.7 955.6,613.5 955.9,620.9 956.2,616.2 956.5,611.1 956.8,617.6 957.1,621.0 957.4,618.6 957.7,612.9 958.0,612.9 958.3,614.0 958.6,612.1 958.9,615.7 959.2,612.6 959.5,613.2 959.8,617.1 960.1,614.4 960.4,615.8 960.7,623.5 961.0,618.0 961.3,620.9 961.6,618.7 961.9,619.4 962.2,613.3 962.5,616.0 962.8,616.9 963.1,616.3 963.4,617.0 963.7,618.0 964.0,616.7 964.3,619.5 964.6,616.3 964.9,620.3 965.2,616.5 965.5,614.3 965.8,611.8 966.1,612.9 966.4,614.2 966.7,618.7 967.0,610.8 967.3,618.4 967.6,615.0 967.9,613.0 968.2,611.8 968.5,618.1 968.8,610.3 969.1,615.0 969.4,614.9 969.7,615.5 970.0,617.6 970.3,613.4 970.6,615.5 970.9,610.9 971.2,614.9 971.5,616.6 971.8,613.5 972.1,615.9 972.4,615.2 972.7,613.9 973.0,614.9 973.3,614.6 973.6,609.0 973.9,610.5 974.2,616.7 974.5,608.7 974.8,619.0 975.1,610.8 975.4,615.4 975.7,616.8 976.0,613.3 976.3,619.0 976.6,610.8 976.9,618.0 977.2,615.5 977.5,614.4 977.8,618.0 978.1,616.4 978.4,610.8 978.7,619.2 979.0,618.0 979.3,615.3 979.6,615.6 979.9,619.4 980.2,620.5 980.5,617.2 980.8,611.5 981.1,615.6 981.4,617.9 981.7,612.7 982.0,611.7 982.3,615.8 982.6,616.3 982.9,617.2 983.2,620.0 983.5,609.1 983.8,616.4 984.1,615.4 984.4,616.0 984.7,616.3 985.0,618.7 985.3,616.6 985.6,613.8 985.9,612.8 986.2,611.0 986.5,607.6 986.8,609.1 987.1,594.9 987.4,592.4 987.7,597.9 988.0,591.0 988.3,588.7 988.6,589.5 988.9,580.3 989.2,593.9 989.5,589.2 989.8,593.8 990.2,604.2 990.5,600.8 990.8,609.2 991.1,614.4 991.4,609.6 991.7,611.0 992.0,615.9 992.3,617.3 992.6,615.9 992.9,610.2 993.2,620.7 993.5,617.9 993.8,608.7 994.1,613.6 994.4,613.3 994.7,614.3 995.0,617.6 995.3,614.4 995.6,620.5 995.9,620.0 996.2,616.5 996.5,612.8 996.8,616.0 997.1,617.2 997.4,619.4 997.7,614.1 998.0,615.6 998.3,611.9 998.6,613.4 998.9,618.3 999.2,619.4 999.5,612.9 999.8,612.7 1000.1,610.6 1000.4,607.5 1000.7,612.9 1001.0,612.4 1001.3,612.0 1001.6,609.2 1001.9,609.9 1002.2,607.9 1002.5,610.5 1002.8,606.8 1003.1,609.5 1003.4,607.5 1003.7,604.4 1004.0,598.5 1004.3,603.4 1004.6,602.1 1004.9,606.7 1005.2,602.4 1005.5,596.1 1005.8,597.1 1006.1,602.9 1006.4,599.6 1006.7,596.9 1007.0,603.0 1007.3,603.9 1007.6,602.8 1007.9,606.9 1008.2,604.7 1008.5,612.0 1008.8,603.5 1009.1,610.9 1009.4,612.0 1009.7,613.7 1010.0,610.0 1010.3,609.6 1010.6,617.0 1010.9,613.7 1011.2,610.5 1011.5,615.4 1011.8,618.2 1012.1,615.6 1012.4,611.4 1012.7,617.0 1013.0,609.1 1013.3,616.5 1013.6,617.2 1013.9,613.3 1014.2,614.9 1014.5,614.6 1014.8,612.4 1015.1,611.2 1015.4,612.7 1015.7,610.8 1016.0,616.3 1016.3,605.1 1016.6,612.4 1016.9,602.5 1017.2,597.0 1017.5,594.2 1017.8,590.0 1018.1,585.8 1018.4,595.8 1018.7,595.2 1019.0,596.4 1019.3,598.5 1019.6,604.3 1019.9,604.9 1020.2,615.3 1020.5,606.7 1020.8,610.8 1021.1,611.8 1021.4,616.7 1021.7,616.3 1022.0,615.1 1022.3,615.1 1022.6,616.9 1022.9,612.9 1023.2,616.9 1023.5,610.9 1023.8,616.8 1024.1,613.3 1024.4,618.5 1024.7,610.9 1025.0,613.4 1025.3,612.2 1025.6,617.9 1025.9,610.5 1026.2,617.9 1026.5,616.7 1026.8,617.2 1027.1,613.3 1027.4,617.2 1027.7,621.4 1028.0,613.8 1028.3,616.9 1028.6,615.4 1028.9,612.8 1029.2,613.8 1029.5,618.2 1029.8,616.4 1030.1,608.7 1030.4,618.3 1030.7,615.6 1031.0,619.6 1031.3,614.7 1031.6,624.1 1031.9,613.7 1032.2,619.1 1032.5,613.1 1032.8,617.0 1033.1,612.5 1033.4,619.9 1033.7,615.6 1034.0,620.2 1034.3,614.3 1034.6,608.6 1034.9,610.3 1035.2,610.9 1035.5,615.8 1035.8,619.4 1036.1,609.6 1036.4,610.3 1036.7,612.7 1037.0,604.5 1037.3,606.7 1037.6,609.4 1037.9,608.0 1038.2,606.3 1038.5,603.2 1038.8,606.5 1039.1,608.3 1039.4,603.5 1039.5,605.9 1039.5,612.1" fill="none" stroke="#231f20" stroke-width="3" stroke-linejoin="round" stroke-linecap="round"/><path d="M1186.5,573.2 1186.8,576.3 1187.1,569.1 1187.4,586.5 1187.7,573.5 1188.0,578.7 1188.3,585.4 1188.6,578.9 1188.9,580.5 1189.2,581.7 1189.5,588.5 1189.8,595.7 1190.1,586.1 1190.4,581.2 1190.7,588.2 1191.0,583.5 1191.3,586.1 1191.6,591.4 1191.9,583.8 1192.2,587.7 1192.5,584.8 1192.8,588.8 1193.1,591.5 1193.4,587.3 1193.7,590.9 1194.0,592.1 1194.3,591.0 1194.6,589.1 1194.9,588.3 1195.2,593.7 1195.5,593.2 1195.8,603.4 1196.1,583.5 1196.4,593.9 1196.7,594.6 1197.0,598.5 1197.3,594.6 1197.6,588.6 1197.9,591.9 1198.2,593.9 1198.5,590.0 1198.8,594.3 1199.1,583.1 1199.4,598.0 1199.7,596.8 1200.0,589.2 1200.3,593.1 1200.6,590.6 1200.9,586.9 1201.2,590.7 1201.5,594.6 1201.8,588.8 1202.1,589.0 1202.4,590.4 1202.7,592.8 1203.0,596.7 1203.3,589.0 1203.6,594.3 1203.9,593.5 1204.2,585.3 1204.5,591.9 1204.8,593.5 1205.1,594.3 1205.4,596.0 1205.7,586.1 1206.0,594.8 1206.3,591.5 1206.6,588.0 1206.9,596.0 1207.2,596.7 1207.5,590.8 1207.8,597.2 1208.1,592.4 1208.4,594.7 1208.7,590.4 1209.0,602.3 1209.3,585.1 1209.6,596.5 1209.9,600.3 1210.2,589.3 1210.5,597.3 1210.8,597.8 1211.1,601.6 1211.4,603.3 1211.8,596.1 1212.1,591.8 1212.4,603.2 1212.7,602.4 1213.0,595.3 1213.3,598.7 1213.6,598.9 1213.9,599.8 1214.2,598.4 1214.5,603.6 1214.8,590.4 1215.1,602.1 1215.4,599.3 1215.7,596.7 1216.0,602.5 1216.3,587.7 1216.6,602.4 1216.9,599.1 1217.2,592.7 1217.5,599.2 1217.8,595.9 1218.1,607.8 1218.4,604.4 1218.7,598.1 1219.0,592.9 1219.3,593.2 1219.6,594.3 1219.9,593.4 1220.2,592.4 1220.5,594.3 1220.8,596.3 1221.1,596.1 1221.4,596.1 1221.7,595.7 1222.0,610.9 1222.3,594.5 1222.6,596.8 1222.9,603.2 1223.2,600.4 1223.5,603.9 1223.8,605.8 1224.1,608.0 1224.4,606.1 1224.7,598.8 1225.0,607.6 1225.3,595.4 1225.6,602.0 1225.9,600.1 1226.2,597.4 1226.5,603.9 1226.8,600.3 1227.1,605.1 1227.4,594.3 1227.7,603.7 1228.0,601.9 1228.3,600.1 1228.6,593.3 1228.9,598.0 1229.2,592.4 1229.5,590.2 1229.8,613.0 1230.1,603.7 1230.4,607.6 1230.7,598.8 1231.0,604.1 1231.3,604.5 1231.6,604.4 1231.9,602.0 1232.2,601.0 1232.5,593.2 1232.8,604.3 1233.1,603.5 1233.4,606.5 1233.7,601.0 1234.0,609.8 1234.3,601.1 1234.6,598.1 1234.9,607.6 1235.2,601.8 1235.5,598.3 1235.8,603.8 1236.1,605.9 1236.4,603.2 1236.7,603.7 1237.0,618.4 1237.3,604.2 1237.6,606.8 1237.9,591.8 1238.2,601.5 1238.5,603.0 1238.8,598.1 1239.1,595.9 1239.4,601.3 1239.7,598.4 1240.0,597.5 1240.3,605.1 1240.6,606.3 1240.9,602.4 1241.2,599.6 1241.5,604.0 1241.8,605.6 1242.1,605.0 1242.4,596.4 1242.7,601.3 1243.0,604.3 1243.3,605.6 1243.6,607.2 1243.9,606.6 1244.2,598.9 1244.5,601.0 1244.8,599.2 1245.1,612.1 1245.4,605.4 1245.7,607.0 1246.0,608.8 1246.3,602.8 1246.6,599.0 1246.9,601.8 1247.2,602.7 1247.5,609.6 1247.8,607.0 1248.1,598.9 1248.4,606.4 1248.7,606.9 1249.0,599.4 1249.3,603.5 1249.6,596.2 1249.9,605.4 1250.2,602.7 1250.5,598.4 1250.8,601.3 1251.1,605.3 1251.4,602.2 1251.7,605.9 1252.0,607.0 1252.3,601.1 1252.6,603.1 1252.9,613.1 1253.2,604.2 1253.5,599.5 1253.8,602.7 1254.1,596.1 1254.4,605.1 1254.7,601.2 1255.0,602.5 1255.3,600.1 1255.6,596.1 1255.9,595.8 1256.2,590.1 1256.5,584.1 1256.8,580.3 1257.1,581.0 1257.4,572.9 1257.7,590.3 1258.0,578.7 1258.3,587.4 1258.6,585.3 1258.9,585.2 1259.2,594.8 1259.5,595.9 1259.8,598.0 1260.1,601.9 1260.4,598.3 1260.7,602.6 1261.0,603.5 1261.3,600.5 1261.6,600.7 1262.0,603.7 1262.3,601.8 1262.6,602.0 1262.9,592.3 1263.2,601.6 1263.5,603.0 1263.8,601.4 1264.1,603.6 1264.4,610.1 1264.7,603.7 1265.0,606.5 1265.3,601.2 1265.6,601.6 1265.9,603.3 1266.2,601.5 1266.5,605.5 1266.8,602.1 1267.1,605.1 1267.4,600.4 1267.7,599.7 1268.0,603.6 1268.3,602.3 1268.6,604.0 1268.9,604.4 1269.2,605.5 1269.5,610.9 1269.8,612.2 1270.1,609.7 1270.4,605.5 1270.7,612.5 1271.0,600.9 1271.3,599.0 1271.6,607.6 1271.9,606.5 1272.2,606.0 1272.5,606.8 1272.8,600.7 1273.1,603.0 1273.4,612.6 1273.7,612.5 1274.0,606.4 1274.3,617.1 1274.6,606.1 1274.9,608.2 1275.2,611.5 1275.5,605.6 1275.8,607.8 1276.1,608.4 1276.4,606.9 1276.7,611.0 1277.0,609.3 1277.3,602.3 1277.6,603.3 1277.9,606.2 1278.2,604.9 1278.5,601.9 1278.8,606.4 1279.1,608.1 1279.4,602.9 1279.7,608.8 1280.0,600.3 1280.3,601.1 1280.6,609.9 1280.9,605.5 1281.2,605.3 1281.5,608.3 1281.8,606.6 1282.1,610.1 1282.4,602.9 1282.7,606.5 1283.0,619.4 1283.3,607.5 1283.6,599.7 1283.9,609.2 1284.2,609.1 1284.5,612.5 1284.8,608.0 1285.1,605.1 1285.4,613.1 1285.7,610.5 1286.0,600.9 1286.3,610.5 1286.6,606.7 1286.9,611.7 1287.2,606.0 1287.5,610.3 1287.8,608.2 1288.1,609.8 1288.4,607.8 1288.7,606.6 1289.0,608.7 1289.3,611.1 1289.6,610.4 1289.9,615.0 1290.2,610.5 1290.5,611.2 1290.8,616.6 1291.1,608.8 1291.4,610.6 1291.7,606.3 1292.0,608.9 1292.3,615.3 1292.6,610.6 1292.9,615.4 1293.2,606.4 1293.5,605.6 1293.8,612.6 1294.1,606.6 1294.4,622.3 1294.7,617.1 1295.0,607.8 1295.3,611.9 1295.6,610.2 1295.9,613.8 1296.2,611.7 1296.5,615.0 1296.8,616.6 1297.1,609.6 1297.4,605.4 1297.7,611.4 1298.0,608.0 1298.3,612.3 1298.6,606.7 1298.9,610.0 1299.2,607.7 1299.5,605.4 1299.8,604.3 1300.1,608.7 1300.4,615.8 1300.7,609.6 1301.0,606.2 1301.3,609.6 1301.6,607.7 1301.9,602.6 1302.2,608.9 1302.5,613.9 1302.8,607.0 1303.1,604.2 1303.4,610.5 1303.7,615.8 1304.0,612.5 1304.3,612.8 1304.6,617.5 1304.9,614.6 1305.2,610.7 1305.5,606.6 1305.8,607.3 1306.1,605.8 1306.4,609.0 1306.7,602.0 1307.0,611.1 1307.3,605.7 1307.6,603.7 1307.9,608.4 1308.2,597.6 1308.5,602.5 1308.8,603.3 1309.1,609.1 1309.4,604.3 1309.7,611.8 1310.0,604.9 1310.3,608.8 1310.6,604.4 1310.9,611.7 1311.2,606.4 1311.5,609.4 1311.9,605.4 1312.2,602.8 1312.5,605.7 1312.8,610.4 1313.1,602.1 1313.4,600.0 1313.7,604.7 1314.0,609.1 1314.3,602.4 1314.6,604.7 1314.9,607.9 1315.2,606.3 1315.5,609.1 1315.8,613.0 1316.1,609.0 1316.4,609.2 1316.7,612.9 1317.0,610.3 1317.3,607.4 1317.6,607.5 1317.9,607.5 1318.2,619.2 1318.5,611.9 1318.8,614.3 1319.1,614.8 1319.4,608.4 1319.7,614.1 1320.0,609.3 1320.3,603.2 1320.6,610.1 1320.9,606.7 1321.2,609.4 1321.5,612.0 1321.8,619.5 1322.1,609.0 1322.4,610.2 1322.7,612.2 1323.0,611.4 1323.3,610.0 1323.6,606.3 1323.9,606.6 1324.2,609.5 1324.5,605.8 1324.8,607.7 1325.1,605.4 1325.4,614.5 1325.7,604.4 1326.0,617.2 1326.3,607.5 1326.6,605.4 1326.9,604.7 1327.2,611.9 1327.5,612.8 1327.8,605.7 1328.1,610.3 1328.4,608.6 1328.7,608.5 1329.0,610.1 1329.3,612.5 1329.6,602.3 1329.9,600.9 1330.2,609.9 1330.5,608.7 1330.8,611.4 1331.1,602.2 1331.4,605.1 1331.7,615.0 1332.0,604.6 1332.3,611.4 1332.6,607.5 1332.9,609.5 1333.2,606.1 1333.5,616.1 1333.8,604.5 1334.1,607.1 1334.4,608.1 1334.7,615.7 1335.0,612.1 1335.3,613.1 1335.6,610.0 1335.9,610.4 1336.2,610.8 1336.5,614.1 1336.8,608.5 1337.1,601.5 1337.4,611.0 1337.7,606.8 1338.0,602.2 1338.3,605.9 1338.6,603.3 1338.9,615.5 1339.2,606.8 1339.5,601.1 1339.8,610.3 1340.1,606.3 1340.4,614.6 1340.7,610.2 1341.0,602.8 1341.3,607.5 1341.6,605.0 1341.9,606.0 1342.2,606.2 1342.5,600.8 1342.8,609.0 1343.1,604.9 1343.4,604.8 1343.7,611.0 1344.0,615.3 1344.3,605.5 1344.6,614.5 1344.9,599.4 1345.2,609.0 1345.5,604.3 1345.8,606.1 1346.1,602.5 1346.4,604.1 1346.7,605.4 1347.0,605.6 1347.3,608.9 1347.6,616.5 1347.9,605.6 1348.2,607.7 1348.5,601.7 1348.8,598.9 1349.1,613.7 1349.4,603.3 1349.7,605.5 1350.0,608.4 1350.3,611.7 1350.6,609.4 1350.9,615.3 1351.2,607.4 1351.5,601.0 1351.8,608.4 1352.1,608.2 1352.4,604.5 1352.7,606.4 1353.0,605.5 1353.3,614.4 1353.6,605.7 1353.9,602.9 1354.2,609.5 1354.5,601.7 1354.8,610.5 1355.1,610.7 1355.4,606.2 1355.7,607.5 1356.0,607.6 1356.3,616.2 1356.6,611.6 1356.9,605.6 1357.2,605.4 1357.5,609.7 1357.8,609.9 1358.1,607.0 1358.4,611.0 1358.7,609.1 1359.0,613.9 1359.3,611.5 1359.6,609.3 1359.9,610.1 1360.2,606.1 1360.5,612.7 1360.8,610.7 1361.1,607.6 1361.4,609.6 1361.7,607.2 1362.1,618.7 1362.4,607.6 1362.7,611.4 1363.0,610.8 1363.3,606.4 1363.6,609.3 1363.9,608.0 1364.2,610.1 1364.5,610.0 1364.8,612.0 1365.1,612.1 1365.4,607.8 1365.7,607.7 1366.0,607.9 1366.3,607.3 1366.6,604.5 1366.9,613.8 1367.2,611.4 1367.5,610.9 1367.8,605.1 1368.1,605.3 1368.4,600.8 1368.7,609.3 1369.0,611.7 1369.3,611.0 1369.6,608.2 1369.9,604.4 1370.2,608.7 1370.5,609.2 1370.8,612.4 1371.1,613.2 1371.4,609.9 1371.7,611.4 1372.0,614.6 1372.3,614.1 1372.6,611.9 1372.9,604.4 1373.2,610.2 1373.5,615.8 1373.8,613.0 1374.1,615.7 1374.4,610.5 1374.7,611.8 1375.0,614.1 1375.3,613.4 1375.6,611.9 1375.9,614.1 1376.2,614.6 1376.5,614.2 1376.8,602.2 1377.1,606.1 1377.4,606.2 1377.7,605.6 1378.0,600.5 1378.3,611.4 1378.6,602.5 1378.9,606.6 1379.2,597.1 1379.5,604.3 1379.8,605.4 1380.1,603.0 1380.4,609.4 1380.7,615.7 1381.0,603.3 1381.3,603.3 1381.6,613.1 1381.9,608.4 1382.2,604.9 1382.5,601.0 1382.8,608.6 1383.1,606.6 1383.4,611.7 1383.7,602.6 1384.0,605.4 1384.3,605.0 1384.6,605.6 1384.9,610.7 1385.2,610.2 1385.5,604.9 1385.8,607.4 1386.1,607.2 1386.4,611.8 1386.7,608.0 1387.0,604.6 1387.3,607.7 1387.6,608.9 1387.9,612.5 1388.2,613.9 1388.5,614.0 1388.8,610.6 1389.1,607.4 1389.4,611.8 1389.7,609.1 1390.0,607.6 1390.3,611.3 1390.6,611.9 1390.9,613.8 1391.2,607.1 1391.5,604.2 1391.8,612.5 1392.1,606.9 1392.4,614.2 1392.7,606.0 1393.0,607.7 1393.3,602.6 1393.6,616.8 1393.9,606.8 1394.2,607.6 1394.5,605.4 1394.8,605.9 1395.1,609.4 1395.4,606.2 1395.7,605.3 1396.0,609.5 1396.3,599.5 1396.6,608.6 1396.9,610.2 1397.2,598.7 1397.5,604.8 1397.8,598.8 1398.1,595.6 1398.4,600.4 1398.7,605.6 1399.0,606.5 1399.3,602.3 1399.6,600.4 1399.9,602.0 1400.2,600.9 1400.5,601.2 1400.8,594.3 1401.1,602.3 1401.4,602.5 1401.7,610.9 1402.0,604.8 1402.3,601.1 1402.6,601.2 1402.9,601.2 1403.2,596.0 1403.5,589.2 1403.8,592.3 1404.1,591.4 1404.4,588.8 1404.7,580.1 1405.0,571.6 1405.3,563.7 1405.6,551.3 1405.9,536.4 1406.2,513.5 1406.5,494.5 1406.8,467.2 1407.1,454.7 1407.4,437.6 1407.7,427.5 1408.0,436.4 1408.3,450.9 1408.6,464.9 1408.9,492.4 1409.2,508.4 1409.5,529.0 1409.8,537.5 1410.1,552.0 1410.4,558.5 1410.7,554.1 1411.0,550.1 1411.3,538.8 1411.6,527.8 1411.9,508.2 1412.3,488.9 1412.6,465.1 1412.9,440.9 1413.2,427.0 1413.5,425.5 1413.8,434.6 1414.1,456.1 1414.4,471.5 1414.7,488.9 1415.0,506.4 1415.3,536.7 1415.6,552.2 1415.9,561.4 1416.2,579.8 1416.5,583.9 1416.8,587.5 1417.1,585.4 1417.4,598.9 1417.7,597.4 1418.0,597.7 1418.3,596.3 1418.6,599.8 1418.9,606.9 1419.2,605.0 1419.5,611.4 1419.8,608.4 1420.1,606.0 1420.4,608.3 1420.7,605.6 1421.0,599.4 1421.3,602.6 1421.6,606.1 1421.9,601.3 1422.2,602.8 1422.5,600.1 1422.8,611.2 1423.1,599.8 1423.4,600.8 1423.7,601.4 1424.0,608.4 1424.3,608.9 1424.6,602.4 1424.9,606.5 1425.2,600.8 1425.5,604.0 1425.8,613.7 1426.1,607.1 1426.4,602.9 1426.7,597.5 1427.0,600.5 1427.3,595.4 1427.6,590.5 1427.9,599.1 1428.2,596.6 1428.5,592.4 1428.8,592.6 1429.1,579.9 1429.4,589.6 1429.7,579.4 1430.0,585.5 1430.3,587.4 1430.6,592.2 1430.9,598.4 1431.2,594.8 1431.5,594.5 1431.8,593.7 1432.1,600.5 1432.4,597.5 1432.7,596.3 1433.0,601.2 1433.3,604.9 1433.6,601.4 1433.9,598.9 1434.2,603.8 1434.5,599.0 1434.8,598.4 1435.1,610.2 1435.4,606.0 1435.7,612.9 1436.0,600.1 1436.3,609.8 1436.6,605.3 1436.9,616.2 1437.2,605.2 1437.5,604.3 1437.8,607.5 1438.1,606.5 1438.4,603.9 1438.7,608.9 1439.0,607.8 1439.3,608.4 1439.6,606.4 1439.9,602.2 1440.2,602.3 1440.5,607.4 1440.8,601.8 1441.1,612.2 1441.4,606.1 1441.7,603.3 1442.0,610.4 1442.3,606.5 1442.6,611.0 1442.9,607.1 1443.2,612.6 1443.5,604.0 1443.8,596.6 1444.1,598.6 1444.4,597.4 1444.7,605.0 1445.0,608.7 1445.3,600.0 1445.6,594.3 1445.9,600.4 1446.2,597.8 1446.5,592.7 1446.8,593.7 1447.1,590.2 1447.4,583.9 1447.7,589.4 1448.0,583.8 1448.3,581.6 1448.6,584.6 1448.9,592.3 1449.2,595.2 1449.5,594.6 1449.8,589.0 1450.1,588.5 1450.4,595.0 1450.7,594.2 1451.0,596.2 1451.3,591.8 1451.6,592.9 1451.9,592.0 1452.2,598.5 1452.5,598.6 1452.8,590.4 1453.1,592.8 1453.4,589.6 1453.7,579.5 1454.0,575.5 1454.3,569.2 1454.6,549.6 1454.9,541.8 1455.2,515.7 1455.5,491.9 1455.8,462.1 1456.1,426.2 1456.4,401.2 1456.7,370.3 1457.0,345.4 1457.3,333.1 1457.6,335.6 1457.9,346.7 1458.2,368.7 1458.5,400.6 1458.8,435.0 1459.1,463.3 1459.4,488.7 1459.7,519.7 1460.0,536.1 1460.3,556.0 1460.6,566.0 1460.9,572.5 1461.2,578.3 1461.5,584.7 1461.8,590.8 1462.2,585.8 1462.5,597.7 1462.8,601.8 1463.1,597.8 1463.4,595.3 1463.7,593.8 1464.0,601.5 1464.3,602.5 1464.6,601.4 1464.9,604.0 1465.2,599.0 1465.5,600.9 1465.8,603.3 1466.1,601.8 1466.4,605.0 1466.7,605.6 1467.0,603.4 1467.3,601.4 1467.6,603.1 1467.9,610.7 1468.2,602.5 1468.5,607.8 1468.8,604.2 1469.1,617.0 1469.4,606.0 1469.7,610.8 1470.0,604.7 1470.3,620.5 1470.6,603.3 1470.9,609.7 1471.2,603.7 1471.5,611.6 1471.8,603.8 1472.1,607.0 1472.4,602.7 1472.7,607.3 1473.0,608.8 1473.3,615.5 1473.6,600.2 1473.9,611.1 1474.2,609.3 1474.5,606.8 1474.8,608.3 1475.1,610.6 1475.4,609.0 1475.7,609.0 1476.0,606.2 1476.3,607.7 1476.6,611.2 1476.9,606.0 1477.2,607.8 1477.5,610.4 1477.8,611.7 1478.1,612.4 1478.4,610.5 1478.7,603.9 1479.0,614.8 1479.3,615.8 1479.6,616.6 1479.9,613.4 1480.2,615.2 1480.5,610.7 1480.8,607.4 1481.1,610.8 1481.4,610.3 1481.7,614.8 1482.0,613.8 1482.3,608.6 1482.6,608.6 1482.9,609.8 1483.2,610.0 1483.5,614.9 1483.8,607.4 1484.1,613.9 1484.4,603.5 1484.7,605.9 1485.0,614.6 1485.3,609.4 1485.6,608.0 1485.9,609.5 1486.2,606.1 1486.5,606.8 1486.8,607.1 1487.1,606.8 1487.4,607.1 1487.7,603.3 1488.0,606.8 1488.3,602.6 1488.6,607.5 1488.9,604.8 1489.2,606.5 1489.5,606.9 1489.8,603.5 1490.1,604.8 1490.4,607.0 1490.7,610.0 1491.0,612.5 1491.3,609.4 1491.6,607.5 1491.9,611.2 1492.2,610.3 1492.5,613.2 1492.8,614.8 1493.1,617.4 1493.4,603.7 1493.7,608.0 1494.0,609.4 1494.3,612.6 1494.6,612.0 1494.9,609.5 1495.2,611.8 1495.5,606.3 1495.8,606.1 1496.1,607.4 1496.4,600.4 1496.7,608.0 1497.0,596.0 1497.3,591.0 1497.6,592.4 1497.9,579.8 1498.2,581.6 1498.5,579.8 1498.8,584.2 1499.1,591.6 1499.4,583.3 1499.7,581.4 1500.0,591.4 1500.3,597.2 1500.6,595.1 1500.9,603.2 1501.2,610.6 1501.5,608.6 1501.8,605.2 1502.1,607.1 1502.4,603.6 1502.7,608.4 1503.0,607.9 1503.3,615.2 1503.6,604.0 1503.9,603.8 1504.2,610.4 1504.5,611.9 1504.8,607.7 1505.1,610.7 1505.4,612.7 1505.7,613.2 1506.0,612.0 1506.3,612.7 1506.6,604.9 1506.9,613.8 1507.2,611.3 1507.5,607.5 1507.8,608.9 1508.1,609.0 1508.4,607.6 1508.7,608.6 1509.0,607.2 1509.3,602.5 1509.6,615.6 1509.9,608.4 1510.2,614.9 1510.5,605.3 1510.8,612.4 1511.1,606.0 1511.4,612.6 1511.7,610.5 1512.0,610.1 1512.4,606.5 1512.7,607.8 1513.0,611.3 1513.3,597.4 1513.6,600.2 1513.9,595.0 1514.2,592.5 1514.5,594.0 1514.8,591.0 1515.1,584.7 1515.4,589.8 1515.7,585.4 1516.0,590.1 1516.3,597.4 1516.6,602.6 1516.9,604.1 1517.2,603.1 1517.5,611.2 1517.8,616.8 1518.1,609.7 1518.4,611.7 1518.7,607.6 1519.0,611.7 1519.3,608.0 1519.6,611.8 1519.9,616.6 1520.2,612.3 1520.5,607.3 1520.8,612.8 1521.1,603.0 1521.4,614.0 1521.7,610.5 1522.0,605.4 1522.3,608.3 1522.6,606.1 1522.9,617.1 1523.2,611.7 1523.5,605.7 1523.8,606.9 1524.1,609.9 1524.4,607.0 1524.7,609.9 1525.0,610.3 1525.3,603.2 1525.6,610.8 1525.9,614.7 1526.2,609.4 1526.5,610.4 1526.8,606.0 1527.1,605.8 1527.4,608.8 1527.7,604.2 1528.0,601.3 1528.3,610.4 1528.6,604.8 1528.9,608.0 1529.2,607.5 1529.5,608.4 1529.8,608.9 1530.1,608.3 1530.4,604.9 1530.7,608.8 1531.0,604.2 1531.3,606.9 1531.6,603.4 1531.9,606.4 1532.2,603.3 1532.5,612.5 1532.8,609.2 1533.1,605.9 1533.4,602.6 1533.7,607.2 1534.0,615.4 1534.3,608.4 1534.6,614.8 1534.9,610.4 1535.2,610.0 1535.5,607.2 1535.8,612.2 1536.1,614.9 1536.4,613.8 1536.7,612.7 1537.0,606.6 1537.3,610.8 1537.6,606.0 1537.9,607.0 1538.2,611.5 1538.5,606.1 1538.8,612.1 1539.1,609.2 1539.4,616.0 1539.7,610.1 1540.0,612.7 1540.3,614.6 1540.6,612.9 1540.9,612.9 1541.2,603.7 1541.5,613.3 1541.8,603.5 1542.1,606.8 1542.4,599.8 1542.7,607.5 1543.0,605.9 1543.3,607.2 1543.6,604.1 1543.9,606.8 1544.2,604.3 1544.5,606.0 1544.8,609.6 1545.1,598.1 1545.4,606.1 1545.7,605.9 1546.0,600.9 1546.3,605.6 1546.6,613.1 1546.9,609.6 1547.2,606.6 1547.5,611.9 1547.8,610.8 1548.1,604.7 1548.4,608.1 1548.7,609.0 1549.0,608.6 1549.3,608.9 1549.6,606.3 1549.9,604.9 1550.2,601.1 1550.5,600.1 1550.8,598.4 1551.1,602.0 1551.4,600.4 1551.7,600.1 1552.0,607.0 1552.3,615.2 1552.6,607.1 1552.9,613.7 1553.2,607.8 1553.5,611.2 1553.8,614.1 1554.1,615.1 1554.4,618.8 1554.7,608.8 1555.0,610.7 1555.3,615.3 1555.6,614.7 1555.9,606.1 1556.2,608.7 1556.5,612.0 1556.8,612.3 1557.1,603.6 1557.4,608.2 1557.7,598.2 1558.0,610.5 1558.3,613.4 1558.6,602.8 1558.9,606.5 1559.2,602.3 1559.5,606.5 1559.8,610.8 1560.1,611.6 1560.4,611.5 1560.7,605.2 1561.0,607.7 1561.3,618.3 1561.6,612.3 1561.9,609.8 1562.2,612.2 1562.6,608.8 1562.9,611.3 1563.2,607.5 1563.5,607.5 1563.8,603.9 1564.1,616.3 1564.4,612.2 1564.7,611.8 1565.0,612.9 1565.3,609.3 1565.6,606.0 1565.9,612.4 1566.2,613.6 1566.5,613.5 1566.8,610.4 1567.1,606.4 1567.4,615.2 1567.7,613.5 1568.0,611.3 1568.3,610.0 1568.6,609.7 1568.9,607.3 1569.2,603.2 1569.5,608.0 1569.8,606.5 1570.1,609.2 1570.4,606.9 1570.7,609.3 1571.0,603.8 1571.3,610.2 1571.6,616.4 1571.9,608.1 1572.2,610.7 1572.5,611.3 1572.8,608.9 1573.1,608.0 1573.4,600.8 1573.7,603.3 1574.0,612.0 1574.3,606.8 1574.6,606.9 1574.9,613.6 1575.2,599.8 1575.5,610.4 1575.8,608.8 1576.1,598.8 1576.4,603.6 1576.7,607.4 1577.0,602.9 1577.3,602.5 1577.6,607.7 1577.9,604.8 1578.2,606.5 1578.5,605.4 1578.8,606.6 1579.1,607.3 1579.4,614.5 1579.7,607.4 1580.0,602.8 1580.3,606.5 1580.6,605.6 1580.9,616.9 1581.2,598.6 1581.5,606.5 1581.8,604.8 1582.1,609.6 1582.4,600.0 1582.7,599.3 1583.0,605.5 1583.3,607.6 1583.6,606.3 1583.9,607.2 1584.2,604.7 1584.5,608.6 1584.8,605.1 1585.1,602.2 1585.4,609.1 1585.7,599.5 1586.0,595.9 1586.3,599.6 1586.6,600.0 1586.9,599.8 1587.2,598.5 1587.5,600.9 1587.8,598.2 1588.1,596.3 1588.4,605.1 1588.7,599.3 1589.0,604.4 1589.3,601.1 1589.6,602.4 1589.9,606.4 1590.2,593.4 1590.5,604.5 1590.8,600.1 1591.1,602.7 1591.4,597.1 1591.7,598.2 1592.0,596.8 1592.3,592.2 1592.6,594.9 1592.9,600.1 1593.2,595.1 1593.5,591.2 1593.8,578.5 1594.1,569.8 1594.4,557.3 1594.7,537.5 1595.0,529.6 1595.3,513.7 1595.6,509.2 1595.9,504.8 1596.2,505.6 1596.5,509.3 1596.8,522.5 1597.1,542.7 1597.4,550.5 1597.7,562.5 1598.0,563.6 1598.3,572.7 1598.6,568.7 1598.9,566.5 1599.2,565.2 1599.5,554.6 1599.8,543.4 1600.1,540.3 1600.4,521.8 1600.7,498.1 1601.0,477.3 1601.3,456.5 1601.6,423.4 1601.9,389.0 1602.2,381.2 1602.5,345.7 1602.8,335.2 1603.1,323.5 1603.4,328.4 1603.7,352.1 1604.0,366.8 1604.3,399.2 1604.6,422.9 1604.9,449.2 1605.2,476.8 1605.5,499.2 1605.8,521.2 1606.1,527.2 1606.4,543.0 1606.7,559.2 1607.0,568.0 1607.3,569.4 1607.6,571.4 1607.9,579.3 1608.2,569.7 1608.5,575.4 1608.8,585.5 1609.1,574.5 1609.4,584.2 1609.7,572.8 1610.0,568.5 1610.3,572.4 1610.6,560.4 1610.9,551.7 1611.2,548.6 1611.5,548.8 1611.8,546.5 1612.1,560.8 1612.5,565.6 1612.8,569.1 1613.1,581.0 1613.4,580.4 1613.7,580.2 1614.0,586.0 1614.3,592.4 1614.6,595.6 1614.9,602.8 1615.2,595.0 1615.5,599.2 1615.8,601.5 1616.1,600.3 1616.4,599.4 1616.7,594.3 1617.0,597.5 1617.3,607.6 1617.6,600.5 1617.9,600.1 1618.2,596.3 1618.5,602.2 1618.8,608.3 1619.1,599.9 1619.4,599.1 1619.7,602.7 1620.0,601.4 1620.3,601.0 1620.6,611.9 1620.9,606.7 1621.2,598.4 1621.5,603.5 1621.8,607.1 1622.1,602.1 1622.4,605.8 1622.7,597.7 1623.0,603.0 1623.3,599.2 1623.6,599.4 1623.9,593.9 1624.2,587.9 1624.5,587.7 1624.8,584.1 1625.1,582.6 1625.4,575.4 1625.7,581.9 1626.0,587.6 1626.3,592.4 1626.6,596.6 1626.9,601.8 1627.2,609.2 1627.5,612.2 1627.8,611.0 1628.1,609.1 1628.4,594.8 1628.7,604.6 1629.0,609.0 1629.3,603.3 1629.6,611.0 1629.9,604.3 1630.2,607.6 1630.5,605.7 1630.8,608.7 1631.1,602.6 1631.4,607.1 1631.7,605.2 1632.0,604.3 1632.3,602.2 1632.6,612.1 1632.9,604.1 1633.2,611.1 1633.5,608.0 1633.8,610.5 1634.1,609.0 1634.4,609.2 1634.7,605.0 1635.0,620.2 1635.3,614.5 1635.6,614.6 1635.9,602.8 1636.2,609.0 1636.5,609.1 1636.8,612.9 1637.1,609.8 1637.4,614.9 1637.7,612.8 1638.0,615.3 1638.3,616.4 1638.6,608.8 1638.9,609.4 1639.2,608.2 1639.5,614.8 1639.8,611.4 1640.1,610.2 1640.4,607.1 1640.7,613.3 1641.0,611.8 1641.3,612.3 1641.6,610.4 1641.9,606.2 1642.2,616.4 1642.5,611.7 1642.8,612.8 1643.1,609.3 1643.4,617.4 1643.7,609.6 1644.0,611.3 1644.3,610.1 1644.6,609.5 1644.9,616.8 1645.2,612.2 1645.5,610.1 1645.8,613.2 1646.1,612.6 1646.4,613.7 1646.7,611.2 1647.0,614.2 1647.3,607.0 1647.6,609.8 1647.9,616.0 1648.2,616.5 1648.5,606.6 1648.8,614.7 1649.1,613.0 1649.4,617.3 1649.7,608.7 1650.0,613.8 1650.3,615.1 1650.6,606.3 1650.9,608.5 1651.2,614.0 1651.5,609.2 1651.8,613.1 1652.1,610.2 1652.4,604.2 1652.7,609.6 1653.0,610.6 1653.3,607.0 1653.6,613.1 1653.9,604.3 1654.2,609.1 1654.5,608.0 1654.8,605.7 1655.1,602.6 1655.4,599.4 1655.7,600.8 1656.0,602.7 1656.3,598.5 1656.6,596.9 1656.9,593.0 1657.2,588.4 1657.5,587.5 1657.8,587.2 1658.1,576.9 1658.4,583.6 1658.7,577.9 1659.0,594.7 1659.3,585.7 1659.6,590.5 1659.9,597.9 1660.2,598.3 1660.5,602.0 1660.8,605.0 1661.1,599.3 1661.4,608.4 1661.7,598.7 1662.0,600.1 1662.3,604.4 1662.7,592.0 1663.0,598.0 1663.3,599.1 1663.6,602.3 1663.9,595.6 1664.2,600.2 1664.5,591.4 1664.8,596.9 1665.1,593.2 1665.4,584.8 1665.7,581.1 1666.0,575.8 1666.3,568.2 1666.6,559.6 1666.9,558.1 1667.2,545.3 1667.5,536.3 1667.8,520.5 1668.1,519.8 1668.4,520.4 1668.7,516.5 1669.0,517.2 1669.3,524.7 1669.6,535.7 1669.9,540.5 1670.2,541.6 1670.5,554.7 1670.8,565.3 1671.1,565.0 1671.4,576.0 1671.7,581.9 1672.0,591.9 1672.3,591.6 1672.6,589.7 1672.9,583.1 1673.2,592.3 1673.5,586.8 1673.8,589.2 1674.1,598.1 1674.4,591.6 1674.7,597.7 1675.0,596.5 1675.3,599.7 1675.6,595.9 1675.9,596.3 1676.2,602.8 1676.5,599.7 1676.8,598.4 1677.1,597.0 1677.4,599.0 1677.7,596.3 1678.0,598.9 1678.3,596.1 1678.6,589.9 1678.9,590.0 1679.2,593.8 1679.5,603.8 1679.8,601.4 1680.1,594.6 1680.4,592.8 1680.7,593.6 1681.0,594.1 1681.3,599.0 1681.6,591.5 1681.9,587.3 1682.2,590.1 1682.5,586.5 1682.8,595.8 1683.1,588.3 1683.4,587.7 1683.7,585.3 1684.0,575.7 1684.3,580.7 1684.6,577.3 1684.9,568.2 1685.2,563.9 1685.5,552.3 1685.8,542.8 1686.1,534.9 1686.4,518.7 1686.7,511.6 1687.0,502.1 1687.3,497.8 1687.6,496.5 1687.9,500.4 1688.2,510.4 1688.5,523.2 1688.8,528.2 1689.1,538.3 1689.4,539.0 1689.7,536.2 1690.0,547.7 1690.3,542.1 1690.6,543.7 1690.9,537.9 1691.2,532.4 1691.5,523.7 1691.8,502.4 1692.1,507.6 1692.4,495.8 1692.7,487.6 1693.0,478.2 1693.3,466.7 1693.6,459.7 1693.9,445.1 1694.2,446.5 1694.5,446.9 1694.8,447.3 1695.1,444.5 1695.4,445.8 1695.7,457.0 1696.0,466.6 1696.3,474.7 1696.6,486.6 1696.9,490.6 1697.2,487.0 1697.5,494.1 1697.8,490.0 1698.1,492.4 1698.4,482.8 1698.7,484.9 1699.0,472.0 1699.3,467.4 1699.6,461.5 1699.9,467.2 1700.2,467.2 1700.5,475.0 1700.8,485.7 1701.1,491.1 1701.4,512.8 1701.7,521.5 1702.0,530.8 1702.3,539.7 1702.6,546.8 1702.9,551.7 1703.2,561.0 1703.5,560.0 1703.8,559.2 1704.1,556.0 1704.4,557.4 1704.7,564.0 1705.0,559.4 1705.3,553.5 1705.6,556.9 1705.9,573.3 1706.2,569.9 1706.5,580.1 1706.8,584.2 1707.1,586.4 1707.4,592.2 1707.7,583.1 1708.0,584.6 1708.3,579.5 1708.6,573.7 1708.9,571.4 1709.2,574.3 1709.5,567.5 1709.8,551.2 1710.1,549.1 1710.4,537.4 1710.7,534.5 1711.0,522.9 1711.3,525.7 1711.6,526.6 1711.9,527.5 1712.2,535.6 1712.5,544.0 1712.9,554.5 1713.2,568.9 1713.5,576.0 1713.8,582.3 1714.1,583.5 1714.4,588.8 1714.7,584.2 1715.0,590.2 1715.3,595.5 1715.6,593.5 1715.9,590.2 1716.2,595.1 1716.5,594.5 1716.8,594.9 1717.1,592.6 1717.4,597.8 1717.7,595.2 1718.0,593.4 1718.3,596.8 1718.6,599.5 1718.9,602.8 1719.2,602.2 1719.5,591.2 1719.8,601.7 1720.1,599.5 1720.4,598.7 1720.7,601.5 1721.0,601.7 1721.3,596.6 1721.6,592.3 1721.9,588.9 1722.2,589.8 1722.5,588.2 1722.8,581.5 1723.1,588.1 1723.4,584.6 1723.7,579.4 1724.0,581.0 1724.3,575.3 1724.6,569.5 1724.9,574.3 1725.2,579.8 1725.5,573.4 1725.8,572.4 1726.1,584.3 1726.4,577.6 1726.7,583.7 1727.0,592.2 1727.3,592.2 1727.6,602.9 1727.9,598.5 1728.2,602.5 1728.5,605.4 1728.8,602.1 1729.1,604.1 1729.4,595.3 1729.7,609.7 1730.0,602.1 1730.3,600.5 1730.6,598.9 1730.9,601.9 1731.2,598.9 1731.5,602.0 1731.8,598.8 1732.1,595.9 1732.4,598.4 1732.7,598.2 1733.0,602.8 1733.3,601.9 1733.6,599.6 1733.9,602.8 1734.2,599.1 1734.5,601.2 1734.8,600.1 1735.1,602.5 1735.4,597.4 1735.7,600.0 1736.0,600.3 1736.3,596.2 1736.6,600.5 1736.9,600.1 1737.2,603.8 1737.5,596.1 1737.8,594.7 1738.1,593.9 1738.4,600.5 1738.7,597.0 1739.0,594.3 1739.3,597.5 1739.6,597.7 1739.9,598.7 1740.2,592.6 1740.5,580.8 1740.8,583.3 1741.1,568.6 1741.4,566.0 1741.7,559.9 1742.0,543.7 1742.3,542.4 1742.6,535.7 1742.9,538.2 1743.2,524.2 1743.5,528.2 1743.8,525.9 1744.1,530.3 1744.4,531.7 1744.7,545.4 1745.0,553.4 1745.3,560.4 1745.6,556.3 1745.9,562.1 1746.2,574.5 1746.5,584.1 1746.8,587.1 1747.1,586.6 1747.4,587.9 1747.7,599.2 1748.0,600.2 1748.3,593.5 1748.6,597.2 1748.9,598.0 1749.2,606.9 1749.5,602.2 1749.8,604.2 1750.1,596.9 1750.4,601.5 1750.7,600.2 1751.0,601.2 1751.3,602.1 1751.6,600.2 1751.9,596.3 1752.2,604.6 1752.5,596.5 1752.8,597.0 1753.1,593.2 1753.4,601.7 1753.7,601.2 1754.0,598.6 1754.3,598.2 1754.6,602.4 1754.9,600.9 1755.2,598.1 1755.5,603.7 1755.8,605.2 1756.1,602.8 1756.4,604.1 1756.7,601.4 1757.0,605.8 1757.3,602.9 1757.6,597.6 1757.9,602.6 1758.2,599.2 1758.5,595.3 1758.8,594.0 1759.1,594.7 1759.4,587.4 1759.7,590.8 1760.0,590.3 1760.3,584.4 1760.6,584.6 1760.9,581.0 1761.2,575.2 1761.5,575.9 1761.8,571.9 1762.1,566.5 1762.4,563.1 1762.8,551.5 1763.1,543.9 1763.4,540.0 1763.7,540.1 1764.0,538.4 1764.3,529.4 1764.6,534.3 1764.9,535.4 1765.2,542.8 1765.5,537.1 1765.8,551.0 1766.1,551.8 1766.4,553.1 1766.7,572.3 1767.0,572.6 1767.3,585.7 1767.6,588.0 1767.9,593.4 1768.2,594.8 1768.5,592.5 1768.8,597.8 1769.1,592.3 1769.4,594.8 1769.7,602.3 1770.0,608.0 1770.3,602.6 1770.6,597.7 1770.9,601.6 1771.2,603.6 1771.5,604.0 1771.8,598.6 1772.1,601.5 1772.4,595.1 1772.7,588.1 1773.0,580.8 1773.3,587.9 1773.6,576.0 1773.9,578.1 1774.2,579.5 1774.5,588.7 1774.8,585.7 1775.1,598.5 1775.4,593.3 1775.7,604.1 1776.0,597.3 1776.3,598.6 1776.6,600.8 1776.9,604.4 1777.2,602.8 1777.5,599.8 1777.8,602.8 1778.1,605.7 1778.4,596.6 1778.7,608.4 1779.0,603.4 1779.3,593.4 1779.6,604.0 1779.9,602.6 1780.2,601.6 1780.5,602.0 1780.8,601.8 1781.1,606.6 1781.4,604.8 1781.7,606.9 1782.0,604.4 1782.3,610.7 1782.6,605.8 1782.9,609.1 1783.2,606.6 1783.5,606.8 1783.8,610.8 1784.1,610.5 1784.4,607.4 1784.7,607.5 1785.0,605.6 1785.3,609.3 1785.6,608.3 1785.9,610.2 1786.2,607.8 1786.5,607.0 1786.8,610.3 1787.1,606.4 1787.4,609.7 1787.7,610.6 1788.0,612.2 1788.3,607.2 1788.6,607.5 1788.9,609.9 1789.2,607.0 1789.5,608.6 1789.8,607.1 1790.1,606.5 1790.4,604.1 1790.7,607.4 1791.0,609.1 1791.3,607.9 1791.6,605.9 1791.9,607.7 1792.2,612.4 1792.5,606.6 1792.8,604.3 1793.1,612.9 1793.4,604.8 1793.7,612.1 1794.0,608.2 1794.3,600.4 1794.6,603.6 1794.9,601.7 1795.2,599.1 1795.5,595.9 1795.8,595.8 1796.1,591.2 1796.4,592.3 1796.7,585.1 1797.0,586.2 1797.3,591.1 1797.6,591.1 1797.9,592.9 1798.2,598.4 1798.5,595.7 1798.8,597.0 1799.1,600.7 1799.4,605.5 1799.7,607.3 1800.0,601.0 1800.3,603.1 1800.6,606.7 1800.9,606.6 1801.2,602.7 1801.5,609.0 1801.8,604.6 1802.1,605.1 1802.4,602.9 1802.7,609.2 1803.0,608.8 1803.3,603.7 1803.6,608.8 1803.9,607.6 1804.2,606.0 1804.5,602.9 1804.8,605.8 1805.1,599.9 1805.4,600.1 1805.7,600.7 1806.0,603.5 1806.3,605.8 1806.6,593.8 1806.9,599.8 1807.2,596.8 1807.5,600.6 1807.8,592.9 1808.1,603.4 1808.4,593.6 1808.7,599.7 1809.0,588.3 1809.3,593.2 1809.6,595.6 1809.9,592.2 1810.2,580.7 1810.5,577.3 1810.8,571.8 1811.1,573.9 1811.4,559.5 1811.7,562.5 1812.0,546.2 1812.3,532.6 1812.6,505.2 1813.0,481.8 1813.3,453.7 1813.6,415.5 1813.9,379.6 1814.2,348.1 1814.5,309.7 1814.8,278.7 1815.1,250.0 1815.4,243.5 1815.7,246.7 1816.0,256.9 1816.3,278.6 1816.6,316.0 1816.9,352.1 1817.2,386.8 1817.5,417.7 1817.8,446.1 1818.1,488.7 1818.4,507.8 1818.7,524.6 1819.0,539.5 1819.3,546.0 1819.6,568.6 1819.9,571.8 1820.2,579.0 1820.5,581.8 1820.8,585.3 1821.1,590.2 1821.4,585.4 1821.7,589.6 1822.0,595.5 1822.3,599.0 1822.6,597.2 1822.9,598.5 1823.2,594.1 1823.5,595.7 1823.8,600.0 1824.1,600.3 1824.4,599.8 1824.7,601.1 1825.0,595.6 1825.3,595.9 1825.6,604.3 1825.9,601.7 1826.2,598.3 1826.5,601.9 1826.8,613.6 1827.1,597.7 1827.4,601.2 1827.7,599.4 1828.0,597.4 1828.3,596.6 1828.6,603.6 1828.9,597.2 1829.2,592.1 1829.5,604.7 1829.8,594.4 1830.1,598.3 1830.4,594.5 1830.7,590.0 1831.0,595.3 1831.3,582.7 1831.6,585.1 1831.9,583.9 1832.2,575.6 1832.5,578.1 1832.8,585.4 1833.1,591.9 1833.4,589.1 1833.7,580.3 1834.0,596.1 1834.3,588.2 1834.6,593.3 1834.9,598.5 1835.2,600.6 1835.5,600.1 1835.8,599.7 1836.1,609.2 1836.4,593.2 1836.7,598.0 1837.0,598.7 1837.3,594.7 1837.6,583.0 1837.9,591.9 1838.2,589.4 1838.5,579.5 1838.8,579.3 1839.1,587.3 1839.4,584.0 1839.7,581.4 1840.0,589.5 1840.3,587.1 1840.6,588.9 1840.9,587.4 1841.2,599.2 1841.5,596.6 1841.8,597.6 1842.1,600.7 1842.4,606.3 1842.7,603.6 1843.0,607.8 1843.3,604.1 1843.6,609.0 1843.9,611.2 1844.2,604.9 1844.5,604.8 1844.8,599.0 1845.1,603.5 1845.4,612.5 1845.7,609.0 1846.0,600.4 1846.3,603.0 1846.6,604.6 1846.9,607.3 1847.2,607.3 1847.5,606.6 1847.8,608.0 1848.1,606.2 1848.4,603.6 1848.7,606.4 1849.0,595.3 1849.3,601.6 1849.6,604.6 1849.9,607.6 1850.2,607.6 1850.5,610.5 1850.8,610.3 1851.1,606.9 1851.4,606.8 1851.7,608.5 1852.0,604.5 1852.3,604.7 1852.6,607.1 1852.9,601.8 1853.2,606.5 1853.5,606.5 1853.8,610.8 1854.1,600.4 1854.4,602.7 1854.7,609.6 1855.0,602.7 1855.3,606.1 1855.6,602.2 1855.9,609.9 1856.2,600.0 1856.5,603.2 1856.8,602.5 1857.1,610.6 1857.4,606.9 1857.7,600.3 1858.0,614.1 1858.3,602.7 1858.6,609.9 1858.9,613.1 1859.2,608.0 1859.5,607.8 1859.8,605.7 1860.1,604.7 1860.4,620.7 1860.7,615.0 1861.0,615.6 1861.3,604.1 1861.6,608.6 1861.9,605.4 1862.2,613.7 1862.5,617.8 1862.8,608.5 1863.2,608.0 1863.5,616.0 1863.8,606.0 1864.1,612.6 1864.4,607.6 1864.7,612.1 1865.0,606.7 1865.3,602.1 1865.6,608.3 1865.9,601.4 1866.2,608.7 1866.5,614.1 1866.8,611.6 1867.1,601.4 1867.4,600.5 1867.7,596.9 1868.0,602.9 1868.3,601.1 1868.6,603.1 1868.9,614.2 1869.2,607.9 1869.5,606.5 1869.8,603.0 1870.1,605.8 1870.4,606.9 1870.7,605.3 1871.0,608.0 1871.3,608.2 1871.6,602.0 1871.9,600.6 1872.2,609.9 1872.5,599.5 1872.8,606.3 1873.1,605.9 1873.4,610.9 1873.7,601.4 1874.0,598.0 1874.3,608.8 1874.6,599.1 1874.9,592.9 1875.2,596.3 1875.5,600.7 1875.8,605.3 1876.1,602.4 1876.4,600.0 1876.7,597.3 1877.0,600.5 1877.3,602.6 1877.6,596.8 1877.9,599.9 1878.2,604.4 1878.5,595.0 1878.8,591.7 1879.1,588.0 1879.4,585.3 1879.7,577.7 1880.0,580.3 1880.3,577.3 1880.6,579.6 1880.9,578.6 1881.2,587.8 1881.5,595.2 1881.8,592.0 1882.1,594.8 1882.4,597.9 1882.7,597.1 1883.0,599.4 1883.3,605.4 1883.6,602.4 1883.9,600.0 1884.2,599.6 1884.5,597.7 1884.8,604.4 1885.1,597.8 1885.4,601.3 1885.7,601.7 1886.0,595.1 1886.3,600.8 1886.6,603.6 1886.9,593.6 1887.2,596.9 1887.5,601.8 1887.8,600.2 1888.1,602.3 1888.4,604.8 1888.7,600.0 1889.0,600.7 1889.3,600.0 1889.6,590.2 1889.9,596.0 1890.2,595.9 1890.5,598.7 1890.8,591.3 1891.1,592.6 1891.4,589.4 1891.7,578.4 1892.0,572.4 1892.3,579.0 1892.6,567.9 1892.9,572.3 1893.2,567.9 1893.5,571.4 1893.8,564.3 1894.1,583.8 1894.4,569.6 1894.7,579.3 1895.0,589.5 1895.3,596.0 1895.6,597.0 1895.9,599.8 1896.2,593.8 1896.5,600.5 1896.8,604.9 1897.1,593.9 1897.4,596.0 1897.7,601.1 1898.0,605.4 1898.3,602.5 1898.6,595.1 1898.9,596.4 1899.2,596.5 1899.5,591.4 1899.8,604.3 1900.1,594.0 1900.4,592.8 1900.7,587.8 1901.0,594.3 1901.3,592.3 1901.6,595.9 1901.9,592.5 1902.2,586.0 1902.5,585.2 1902.8,586.1 1903.1,571.0 1903.4,566.8 1903.7,565.6 1904.0,555.3 1904.3,555.0 1904.6,546.2 1904.9,552.5 1905.2,553.1 1905.5,551.2 1905.8,552.9 1906.1,564.2 1906.4,568.6 1906.7,568.6 1907.0,582.6 1907.3,580.2 1907.6,592.2 1907.9,594.4 1908.2,592.2 1908.5,595.3 1908.8,587.9 1909.1,593.8 1909.4,596.1 1909.7,589.2 1910.0,588.4 1910.3,599.8 1910.6,595.1 1910.9,598.6 1911.2,596.5 1911.5,581.0 1911.8,586.2 1912.1,588.1 1912.4,586.6 1912.7,584.0 1913.1,577.5 1913.4,575.8 1913.7,567.9 1914.0,572.0 1914.3,558.8 1914.6,556.0 1914.9,558.3 1915.2,550.9 1915.5,553.5 1915.8,551.2 1916.1,557.8 1916.4,563.7 1916.7,561.0 1917.0,565.2 1917.3,571.7 1917.6,583.3 1917.9,585.8 1918.2,589.9 1918.5,594.9 1918.8,589.9 1919.1,590.5 1919.4,594.4 1919.7,597.3 1920.0,601.8 1920.3,599.3 1920.6,601.9 1920.9,598.2 1921.2,594.9 1921.5,608.5 1921.8,602.2 1922.1,600.3 1922.4,602.3 1922.7,610.4 1923.0,600.1 1923.3,600.3 1923.6,599.3 1923.9,600.7 1924.2,594.8 1924.5,607.5 1924.8,603.1 1925.1,600.1 1925.4,608.1 1925.7,602.9 1926.0,610.2 1926.3,604.2 1926.6,604.8 1926.9,606.2 1927.2,607.2 1927.5,602.4 1927.8,602.1 1928.1,604.9 1928.4,596.6 1928.7,592.8 1929.0,603.3 1929.3,604.1 1929.6,607.9 1929.9,603.2 1930.2,607.9 1930.5,608.9 1930.8,604.1 1931.1,601.2 1931.4,599.9 1931.7,602.7 1932.0,598.0 1932.3,604.2 1932.6,606.2 1932.9,600.6 1933.2,606.0 1933.5,598.2 1933.8,600.5 1934.1,599.3 1934.4,588.9 1934.7,592.5 1935.0,593.9 1935.3,591.3 1935.6,588.0 1935.9,576.7 1936.2,576.4 1936.5,566.9 1936.8,573.6 1937.1,570.3 1937.4,574.5 1937.7,568.5 1938.0,582.0 1938.3,581.3 1938.6,580.3 1938.9,592.4 1939.2,601.5 1939.5,597.6 1939.8,600.2 1940.1,595.3 1940.4,602.5 1940.7,608.6 1941.0,607.2 1941.3,606.7 1941.6,605.6 1941.9,616.4 1942.2,607.7 1942.5,604.0 1942.8,611.7 1943.1,610.2 1943.4,610.3 1943.7,609.3 1944.0,609.4 1944.3,608.7 1944.6,617.3 1944.9,609.7 1945.2,610.0 1945.5,614.2 1945.8,615.6 1946.1,613.8 1946.4,610.7 1946.7,608.8 1947.0,611.1 1947.3,608.5 1947.6,609.1 1947.9,613.2 1948.2,609.1 1948.5,612.5 1948.8,606.9 1949.1,607.8 1949.4,609.0 1949.7,610.2 1950.0,604.5 1950.3,605.1 1950.6,615.7 1950.9,609.8 1951.2,606.7 1951.5,602.5 1951.8,606.3 1952.1,612.2 1952.4,613.2 1952.7,603.3 1953.0,607.5 1953.3,609.5 1953.6,609.5 1953.9,607.3 1954.2,606.6 1954.5,608.2 1954.8,604.7 1955.1,608.2 1955.4,610.1 1955.7,606.3 1956.0,612.8 1956.3,611.6 1956.6,605.9 1956.9,605.8 1957.2,608.3 1957.5,608.5 1957.8,608.3 1958.1,606.8 1958.4,604.8 1958.7,613.2 1959.0,611.1 1959.3,604.7 1959.6,603.5 1959.9,602.5 1960.2,602.6 1960.5,598.1 1960.8,599.4 1961.1,586.2 1961.4,589.3 1961.7,588.5 1962.0,584.6 1962.3,589.4 1962.6,589.5 1962.9,589.3 1963.3,590.0 1963.6,597.4 1963.9,593.3 1964.2,599.7 1964.5,595.3 1964.8,599.7 1965.1,594.5 1965.4,593.3 1965.7,601.7 1966.0,599.8 1966.3,608.4 1966.6,601.9 1966.9,601.0 1967.2,600.0 1967.5,597.0 1967.8,600.8 1968.1,596.9 1968.4,600.4 1968.7,596.2 1969.0,603.2 1969.3,598.9 1969.6,597.8 1969.9,600.3 1970.2,596.6 1970.5,591.5 1970.8,597.2 1971.1,601.2 1971.4,594.8 1971.7,600.7 1972.0,600.5 1972.3,599.5 1972.6,590.6 1972.9,607.2 1973.2,601.6 1973.5,595.4 1973.8,590.1 1974.1,586.6 1974.4,581.1 1974.7,581.7 1975.0,582.3 1975.3,567.8 1975.6,566.3 1975.9,564.3 1976.2,560.3 1976.5,553.7 1976.8,547.5 1977.1,557.4 1977.4,554.0 1977.7,557.2 1978.0,563.0 1978.3,561.3 1978.6,564.2 1978.9,568.4 1979.2,581.2 1979.5,579.0 1979.8,572.7 1980.1,572.7 1980.4,575.2 1980.7,567.1 1981.0,567.4 1981.3,564.5 1981.6,560.0 1981.9,559.0 1982.2,558.3 1982.5,550.5 1982.8,551.2 1983.1,558.4 1983.4,557.2 1983.7,561.1 1984.0,568.5 1984.3,570.7 1984.6,574.1 1984.9,582.5 1985.2,580.0 1985.5,583.4 1985.8,586.8 1986.1,590.9 1986.4,582.4 1986.7,594.1 1987.0,592.9 1987.3,585.7 1987.6,593.5 1987.9,588.2 1988.2,595.3 1988.5,591.0 1988.8,593.0 1989.1,586.9 1989.4,591.9 1989.7,590.7 1990.0,594.5 1990.3,589.1 1990.6,592.1 1990.9,598.0 1991.2,586.6 1991.5,588.3 1991.8,579.2 1992.1,579.9 1992.4,567.2 1992.7,570.2 1993.0,556.0 1993.3,545.8 1993.6,535.8 1993.9,524.9 1994.2,517.3 1994.5,503.2 1994.8,493.7 1995.1,481.3 1995.4,467.8 1995.7,462.8 1996.0,466.0 1996.3,469.7 1996.6,473.9 1996.9,482.1 1997.2,486.3 1997.5,494.4 1997.8,520.2 1998.1,528.0 1998.4,536.9 1998.7,551.0 1999.0,563.7 1999.3,568.0 1999.6,572.1 1999.9,579.8 2000.2,588.2 2000.5,591.3 2000.8,582.3 2001.1,595.8 2001.4,595.1 2001.7,600.9 2002.0,589.8 2002.3,598.7 2002.6,598.3 2002.9,600.5 2003.2,598.2 2003.5,601.6 2003.8,600.0 2004.1,606.7 2004.4,616.5 2004.7,605.3 2005.0,603.5 2005.3,618.7 2005.6,605.3 2005.9,604.3 2006.2,608.9 2006.5,601.5 2006.8,604.5 2007.1,599.6 2007.4,607.3 2007.7,602.1 2008.0,602.1 2008.3,602.6 2008.6,608.8 2008.9,603.3 2009.2,604.1 2009.5,607.1 2009.8,610.0 2010.1,595.3 2010.4,607.8 2010.7,608.3 2011.0,608.7 2011.3,606.9 2011.6,601.7 2011.9,606.7 2012.2,606.0 2012.5,606.2 2012.6,604.4 2012.6,604.1" fill="none" stroke="#231f20" stroke-width="3" stroke-linejoin="round" stroke-linecap="round"/><path d="M2156.4,551.6 2156.7,537.0 2157.0,533.6 2157.3,512.3 2157.6,530.0 2157.9,529.5 2158.2,532.7 2158.5,527.0 2158.8,533.7 2159.1,529.2 2159.4,520.3 2159.7,544.8 2160.0,545.0 2160.3,554.4 2160.6,536.4 2160.9,531.7 2161.2,530.4 2161.5,519.7 2161.8,547.8 2162.1,525.2 2162.4,524.5 2162.7,535.6 2163.0,554.5 2163.3,541.0 2163.6,527.4 2163.9,531.1 2164.2,546.1 2164.5,537.7 2164.8,531.3 2165.1,537.5 2165.4,548.5 2165.7,562.4 2166.0,527.2 2166.3,534.3 2166.6,532.6 2166.9,515.1 2167.2,531.9 2167.5,531.0 2167.8,555.0 2168.1,541.4 2168.4,525.3 2168.7,550.5 2169.0,539.8 2169.3,524.8 2169.6,537.7 2169.9,538.1 2170.2,535.2 2170.5,545.4 2170.8,520.7 2171.1,542.7 2171.4,557.1 2171.7,555.5 2172.0,558.6 2172.3,558.9 2172.6,563.2 2172.9,534.7 2173.2,556.6 2173.5,527.0 2173.8,541.1 2174.1,526.9 2174.4,559.7 2174.7,563.0 2175.0,546.4 2175.3,568.3 2175.6,541.6 2175.9,550.9 2176.2,551.1 2176.5,538.0 2176.8,554.7 2177.1,571.4 2177.4,539.1 2177.7,560.5 2178.0,549.1 2178.3,570.5 2178.6,556.5 2178.9,558.9 2179.2,558.7 2179.5,554.6 2179.8,536.7 2180.1,567.6 2180.4,537.5 2180.7,555.4 2181.0,559.7 2181.3,544.0 2181.7,555.0 2182.0,566.5 2182.3,553.6 2182.6,544.3 2182.9,522.2 2183.2,543.8 2183.5,548.2 2183.8,549.3 2184.1,544.6 2184.4,559.5 2184.7,549.3 2185.0,554.6 2185.3,563.5 2185.6,546.8 2185.9,553.2 2186.2,580.4 2186.5,566.5 2186.8,542.8 2187.1,556.3 2187.4,563.5 2187.7,571.0 2188.0,559.1 2188.3,551.8 2188.6,549.7 2188.9,565.0 2189.2,561.4 2189.5,552.4 2189.8,556.1 2190.1,553.7 2190.4,566.4 2190.7,551.0 2191.0,564.0 2191.3,568.2 2191.6,564.3 2191.9,549.8 2192.2,573.9 2192.5,551.8 2192.8,564.0 2193.1,551.2 2193.4,540.4 2193.7,562.2 2194.0,562.9 2194.3,559.0 2194.6,563.0 2194.9,552.9 2195.2,552.0 2195.5,558.3 2195.8,581.2 2196.1,569.1 2196.4,554.4 2196.7,566.0 2197.0,554.0 2197.3,551.8 2197.6,559.5 2197.9,532.8 2198.2,513.0 2198.5,528.9 2198.8,551.5 2199.1,558.9 2199.4,573.8 2199.7,553.2 2200.0,569.6 2200.3,566.5 2200.6,560.5 2200.9,571.5 2201.2,567.9 2201.5,553.2 2201.8,574.6 2202.1,549.5 2202.4,563.8 2202.7,563.3 2203.0,568.0 2203.3,555.5 2203.6,563.2 2203.9,562.2 2204.2,574.8 2204.5,555.3 2204.8,564.9 2205.1,561.4 2205.4,550.1 2205.7,593.9 2206.0,563.8 2206.3,548.4 2206.6,580.4 2206.9,553.2 2207.2,569.2 2207.5,574.7 2207.8,558.2 2208.1,560.7 2208.4,559.6 2208.7,564.3 2209.0,548.0 2209.3,552.3 2209.6,564.5 2209.9,577.6 2210.2,573.2 2210.5,585.4 2210.8,574.1 2211.1,561.0 2211.4,565.4 2211.7,544.5 2212.0,556.4 2212.3,555.9 2212.6,570.2 2212.9,574.4 2213.2,561.3 2213.5,561.1 2213.8,550.6 2214.1,566.3 2214.4,570.6 2214.7,572.9 2215.0,559.5 2215.3,590.1 2215.6,581.4 2215.9,567.4 2216.2,562.7 2216.5,565.1 2216.8,570.4 2217.1,568.6 2217.4,574.2 2217.7,577.5 2218.0,584.1 2218.3,581.8 2218.6,568.1 2218.9,573.7 2219.2,565.2 2219.5,563.1 2219.8,590.7 2220.1,564.7 2220.4,591.7 2220.7,566.0 2221.0,572.7 2221.3,581.9 2221.6,570.3 2221.9,574.3 2222.2,567.4 2222.5,564.8 2222.8,568.1 2223.1,562.6 2223.4,587.5 2223.7,567.4 2224.0,587.6 2224.3,538.4 2224.6,567.1 2224.9,571.6 2225.2,560.3 2225.5,573.3 2225.8,565.5 2226.1,552.2 2226.4,556.5 2226.7,579.0 2227.0,547.5 2227.3,545.2 2227.6,535.2 2227.9,540.9 2228.2,526.1 2228.5,540.2 2228.8,572.5 2229.1,560.8 2229.4,560.0 2229.7,568.8 2230.0,580.8 2230.3,569.7 2230.6,588.5 2230.9,579.6 2231.2,571.3 2231.5,589.7 2231.9,549.2 2232.2,567.1 2232.5,575.7 2232.8,564.9 2233.1,572.5 2233.4,568.2 2233.7,568.3 2234.0,600.8 2234.3,581.0 2234.6,574.7 2234.9,588.0 2235.2,573.3 2235.5,584.3 2235.8,579.3 2236.1,591.7 2236.4,562.6 2236.7,583.8 2237.0,577.8 2237.3,565.6 2237.6,587.1 2237.9,568.6 2238.2,592.7 2238.5,582.2 2238.8,584.1 2239.1,578.4 2239.4,586.3 2239.7,559.8 2240.0,578.5 2240.3,571.8 2240.6,580.6 2240.9,577.5 2241.2,584.0 2241.5,570.1 2241.8,595.8 2242.1,600.5 2242.4,576.3 2242.7,578.2 2243.0,581.2 2243.3,590.6 2243.6,596.7 2243.9,567.0 2244.2,572.8 2244.5,568.5 2244.8,568.1 2245.1,563.1 2245.4,582.4 2245.7,567.8 2246.0,593.4 2246.3,587.8 2246.6,569.2 2246.9,569.3 2247.2,573.4 2247.5,592.7 2247.8,571.2 2248.1,565.1 2248.4,579.0 2248.7,583.1 2249.0,573.3 2249.3,595.2 2249.6,582.0 2249.9,584.1 2250.2,571.6 2250.5,579.5 2250.8,578.4 2251.1,558.1 2251.4,582.8 2251.7,562.8 2252.0,579.8 2252.3,566.0 2252.6,599.6 2252.9,583.4 2253.2,588.6 2253.5,589.2 2253.8,567.7 2254.1,558.6 2254.4,577.4 2254.7,589.2 2255.0,581.5 2255.3,588.3 2255.6,589.8 2255.9,566.5 2256.2,583.6 2256.5,599.8 2256.8,575.5 2257.1,561.6 2257.4,578.9 2257.7,576.7 2258.0,585.2 2258.3,572.7 2258.6,582.2 2258.9,560.1 2259.2,589.6 2259.5,596.7 2259.8,594.0 2260.1,567.0 2260.4,584.7 2260.7,553.0 2261.0,584.4 2261.3,581.2 2261.6,572.3 2261.9,585.1 2262.2,583.2 2262.5,590.9 2262.8,583.1 2263.1,584.1 2263.4,563.2 2263.7,570.7 2264.0,577.3 2264.3,584.7 2264.6,581.8 2264.9,596.2 2265.2,573.5 2265.5,579.5 2265.8,584.3 2266.1,579.6 2266.4,586.6 2266.7,576.3 2267.0,595.5 2267.3,578.8 2267.6,592.5 2267.9,581.5 2268.2,596.1 2268.5,568.4 2268.8,586.8 2269.1,577.7 2269.4,584.0 2269.7,593.3 2270.0,570.9 2270.3,569.1 2270.6,572.2 2270.9,584.3 2271.2,563.7 2271.5,582.7 2271.8,569.5 2272.1,570.8 2272.4,578.3 2272.7,585.5 2273.0,575.8 2273.3,577.1 2273.6,581.4 2273.9,579.2 2274.2,556.1 2274.5,577.7 2274.8,582.6 2275.1,592.3 2275.4,601.4 2275.7,588.2 2276.0,582.5 2276.3,572.5 2276.6,582.6 2276.9,589.3 2277.2,593.9 2277.5,573.3 2277.8,584.0 2278.1,589.6 2278.4,599.6 2278.7,584.2 2279.0,576.6 2279.3,575.1 2279.6,578.3 2279.9,575.5 2280.2,589.7 2280.5,592.0 2280.8,588.7 2281.1,593.2 2281.4,577.4 2281.8,585.4 2282.1,578.0 2282.4,582.1 2282.7,593.5 2283.0,581.4 2283.3,563.8 2283.6,579.3 2283.9,574.8 2284.2,567.2 2284.5,574.1 2284.8,590.8 2285.1,597.7 2285.4,576.9 2285.7,591.1 2286.0,592.8 2286.3,570.3 2286.6,580.9 2286.9,580.7 2287.2,582.5 2287.5,565.0 2287.8,575.2 2288.1,582.5 2288.4,571.1 2288.7,566.8 2289.0,555.8 2289.3,590.3 2289.6,584.9 2289.9,567.2 2290.2,588.1 2290.5,577.7 2290.8,586.2 2291.1,580.4 2291.4,593.0 2291.7,583.9 2292.0,578.8 2292.3,590.8 2292.6,584.0 2292.9,577.6 2293.2,593.8 2293.5,577.7 2293.8,575.5 2294.1,576.4 2294.4,567.5 2294.7,576.3 2295.0,599.5 2295.3,572.9 2295.6,581.7 2295.9,571.0 2296.2,575.7 2296.5,596.2 2296.8,590.2 2297.1,575.8 2297.4,581.7 2297.7,573.7 2298.0,574.1 2298.3,572.8 2298.6,573.0 2298.9,584.7 2299.2,587.3 2299.5,586.3 2299.8,580.0 2300.1,568.5 2300.4,580.9 2300.7,572.7 2301.0,590.0 2301.3,586.9 2301.6,588.7 2301.9,578.2 2302.2,564.2 2302.5,590.7 2302.8,593.3 2303.1,567.3 2303.4,582.8 2303.7,593.0 2304.0,571.2 2304.3,598.5 2304.6,578.1 2304.9,571.2 2305.2,594.6 2305.5,584.3 2305.8,575.2 2306.1,589.9 2306.4,562.7 2306.7,598.9 2307.0,573.6 2307.3,584.1 2307.6,577.6 2307.9,585.6 2308.2,589.9 2308.5,573.4 2308.8,588.9 2309.1,578.5 2309.4,574.7 2309.7,579.1 2310.0,571.6 2310.3,573.6 2310.6,590.3 2310.9,579.7 2311.2,592.1 2311.5,585.2 2311.8,571.1 2312.1,562.6 2312.4,574.0 2312.7,582.7 2313.0,578.9 2313.3,566.2 2313.6,573.8 2313.9,539.9 2314.2,552.0 2314.5,575.3 2314.8,599.8 2315.1,584.0 2315.4,570.8 2315.7,586.3 2316.0,587.3 2316.3,589.8 2316.6,576.9 2316.9,573.2 2317.2,582.0 2317.5,584.8 2317.8,596.2 2318.1,600.9 2318.4,573.8 2318.7,575.8 2319.0,580.2 2319.3,578.4 2319.6,585.4 2319.9,585.4 2320.2,583.2 2320.5,593.6 2320.8,579.1 2321.1,570.5 2321.4,565.6 2321.7,570.6 2322.0,570.5 2322.3,562.4 2322.6,586.8 2322.9,582.1 2323.2,576.2 2323.5,571.7 2323.8,565.0 2324.1,571.3 2324.4,597.8 2324.7,558.8 2325.0,581.3 2325.3,587.0 2325.6,581.1 2325.9,576.7 2326.2,587.1 2326.5,569.0 2326.8,584.9 2327.1,593.2 2327.4,569.3 2327.7,571.4 2328.0,580.4 2328.3,588.5 2328.6,591.7 2328.9,585.3 2329.2,572.2 2329.5,567.6 2329.8,580.4 2330.1,581.5 2330.4,566.8 2330.7,577.6 2331.0,579.9 2331.3,586.4 2331.6,566.5 2332.0,580.9 2332.3,563.9 2332.6,570.6 2332.9,573.5 2333.2,588.3 2333.5,605.0 2333.8,575.0 2334.1,576.7 2334.4,580.9 2334.7,557.4 2335.0,577.1 2335.3,556.9 2335.6,583.5 2335.9,580.6 2336.2,570.3 2336.5,556.4 2336.8,578.5 2337.1,563.1 2337.4,559.3 2337.7,560.9 2338.0,535.1 2338.3,550.7 2338.6,549.4 2338.9,534.1 2339.2,520.3 2339.5,493.9 2339.8,489.0 2340.1,459.4 2340.4,426.8 2340.7,385.5 2341.0,359.0 2341.3,320.0 2341.6,269.1 2341.9,235.1 2342.2,209.0 2342.5,194.7 2342.8,181.5 2343.1,193.8 2343.4,221.8 2343.7,264.4 2344.0,312.0 2344.3,358.1 2344.6,384.8 2344.9,425.9 2345.2,445.3 2345.5,492.1 2345.8,496.2 2346.1,518.8 2346.4,520.2 2346.7,532.9 2347.0,535.6 2347.3,563.2 2347.6,553.7 2347.9,551.3 2348.2,545.8 2348.5,550.6 2348.8,563.2 2349.1,574.9 2349.4,546.1 2349.7,551.9 2350.0,559.6 2350.3,555.8 2350.6,546.2 2350.9,562.5 2351.2,569.5 2351.5,546.8 2351.8,563.3 2352.1,569.6 2352.4,568.4 2352.7,553.3 2353.0,577.4 2353.3,558.4 2353.6,543.0 2353.9,558.1 2354.2,536.0 2354.5,554.2 2354.8,533.2 2355.1,553.6 2355.4,541.9 2355.7,560.6 2356.0,559.4 2356.3,559.3 2356.6,558.1 2356.9,570.4 2357.2,544.8 2357.5,568.1 2357.8,569.3 2358.1,571.9 2358.4,575.4 2358.7,603.7 2359.0,569.8 2359.3,576.7 2359.6,570.8 2359.9,584.7 2360.2,550.3 2360.5,586.2 2360.8,563.5 2361.1,548.4 2361.4,559.9 2361.7,568.6 2362.0,572.3 2362.3,570.0 2362.6,578.4 2362.9,570.3 2363.2,570.0 2363.5,550.1 2363.8,575.4 2364.1,580.5 2364.4,566.8 2364.7,552.8 2365.0,558.0 2365.3,587.0 2365.6,565.1 2365.9,564.5 2366.2,563.1 2366.5,577.5 2366.8,565.3 2367.1,562.6 2367.4,556.5 2367.7,569.9 2368.0,580.6 2368.3,569.5 2368.6,579.4 2368.9,572.6 2369.2,572.3 2369.5,572.6 2369.8,571.2 2370.1,580.7 2370.4,575.5 2370.7,565.2 2371.0,571.9 2371.3,569.9 2371.6,575.2 2371.9,572.2 2372.2,574.4 2372.5,556.2 2372.8,573.9 2373.1,582.8 2373.4,557.1 2373.7,585.3 2374.0,572.6 2374.3,567.7 2374.6,552.2 2374.9,579.7 2375.2,559.8 2375.5,564.0 2375.8,573.8 2376.1,558.5 2376.4,558.5 2376.7,556.6 2377.0,566.1 2377.3,572.3 2377.6,570.0 2377.9,569.3 2378.2,561.2 2378.5,564.8 2378.8,555.3 2379.1,579.1 2379.4,558.9 2379.7,534.1 2380.0,536.8 2380.3,554.2 2380.6,514.5 2380.9,508.8 2381.2,498.4 2381.5,461.9 2381.8,457.5 2382.2,436.6 2382.5,386.2 2382.8,382.1 2383.1,346.8 2383.4,340.1 2383.7,357.8 2384.0,373.6 2384.3,388.5 2384.6,428.6 2384.9,433.3 2385.2,464.3 2385.5,484.3 2385.8,520.4 2386.1,535.5 2386.4,545.4 2386.7,534.8 2387.0,554.4 2387.3,561.6 2387.6,544.6 2387.9,554.3 2388.2,569.9 2388.5,571.5 2388.8,568.1 2389.1,571.6 2389.4,570.1 2389.7,568.9 2390.0,566.9 2390.3,560.0 2390.6,566.3 2390.9,565.1 2391.2,591.5 2391.5,572.0 2391.8,569.6 2392.1,567.7 2392.4,569.0 2392.7,567.7 2393.0,575.7 2393.3,570.3 2393.6,578.5 2393.9,564.2 2394.2,574.3 2394.5,579.5 2394.8,560.1 2395.1,572.8 2395.4,573.7 2395.7,568.2 2396.0,566.8 2396.3,553.7 2396.6,582.6 2396.9,562.7 2397.2,559.8 2397.5,578.1 2397.8,554.2 2398.1,581.1 2398.4,576.1 2398.7,577.7 2399.0,570.4 2399.3,560.3 2399.6,553.9 2399.9,586.1 2400.2,567.6 2400.5,567.2 2400.8,587.4 2401.1,566.1 2401.4,569.9 2401.7,570.0 2402.0,571.0 2402.3,562.3 2402.6,566.9 2402.9,584.7 2403.2,579.7 2403.5,543.8 2403.8,553.6 2404.1,575.6 2404.4,571.4 2404.7,568.9 2405.0,582.5 2405.3,555.4 2405.6,584.0 2405.9,573.8 2406.2,577.8 2406.5,575.0 2406.8,580.7 2407.1,570.2 2407.4,567.4 2407.7,580.1 2408.0,574.3 2408.3,560.6 2408.6,585.6 2408.9,584.3 2409.2,586.5 2409.5,573.4 2409.8,576.0 2410.1,569.0 2410.4,563.4 2410.7,573.3 2411.0,574.4 2411.3,566.4 2411.6,590.3 2411.9,557.2 2412.2,564.9 2412.5,566.3 2412.8,585.2 2413.1,570.3 2413.4,569.7 2413.7,564.3 2414.0,565.4 2414.3,560.3 2414.6,582.5 2414.9,578.6 2415.2,582.3 2415.5,566.5 2415.8,596.9 2416.1,563.4 2416.4,553.1 2416.7,570.0 2417.0,574.2 2417.3,580.1 2417.6,563.1 2417.9,578.5 2418.2,589.2 2418.5,564.7 2418.8,565.7 2419.1,556.5 2419.4,575.2 2419.7,581.1 2420.0,580.2 2420.3,580.8 2420.6,586.4 2420.9,574.0 2421.2,581.9 2421.5,563.6 2421.8,565.1 2422.1,575.0 2422.4,564.7 2422.7,577.9 2423.0,585.5 2423.3,575.8 2423.6,563.7 2423.9,560.2 2424.2,572.9 2424.5,543.2 2424.8,551.7 2425.1,557.3 2425.4,567.9 2425.7,581.3 2426.0,566.7 2426.3,558.8 2426.6,586.4 2426.9,574.8 2427.2,579.7 2427.5,572.6 2427.8,580.3 2428.1,585.0 2428.4,586.0 2428.7,570.3 2429.0,569.5 2429.3,576.7 2429.6,574.9 2429.9,578.4 2430.2,566.1 2430.5,550.7 2430.8,577.3 2431.1,580.5 2431.4,579.2 2431.7,588.9 2432.1,581.2 2432.4,569.3 2432.7,582.5 2433.0,572.2 2433.3,585.1 2433.6,575.3 2433.9,577.4 2434.2,575.2 2434.5,573.6 2434.8,558.7 2435.1,573.6 2435.4,551.2 2435.7,577.8 2436.0,582.6 2436.3,592.7 2436.6,576.6 2436.9,566.2 2437.2,557.8 2437.5,591.7 2437.8,559.3 2438.1,581.6 2438.4,550.9 2438.7,572.5 2439.0,579.6 2439.3,576.1 2439.6,572.6 2439.9,565.1 2440.2,564.3 2440.5,582.7 2440.8,577.2 2441.1,571.4 2441.4,574.9 2441.7,564.0 2442.0,582.7 2442.3,585.0 2442.6,565.4 2442.9,573.8 2443.2,582.9 2443.5,566.6 2443.8,592.2 2444.1,587.1 2444.4,569.8 2444.7,581.8 2445.0,588.0 2445.3,559.5 2445.6,575.4 2445.9,562.6 2446.2,552.6 2446.5,555.7 2446.8,550.1 2447.1,550.5 2447.4,555.7 2447.7,571.2 2448.0,578.0 2448.3,572.0 2448.6,570.9 2448.9,572.1 2449.2,584.8 2449.5,577.6 2449.8,565.3 2450.1,569.7 2450.4,584.0 2450.7,566.9 2451.0,568.6 2451.3,572.1 2451.6,562.1 2451.9,580.9 2452.2,551.1 2452.5,586.0 2452.8,567.8 2453.1,559.7 2453.4,574.3 2453.7,555.0 2454.0,576.3 2454.3,578.3 2454.6,565.1 2454.9,566.5 2455.2,578.9 2455.5,562.9 2455.8,569.0 2456.1,571.5 2456.4,582.4 2456.7,561.9 2457.0,566.2 2457.3,575.8 2457.6,539.5 2457.9,560.4 2458.2,543.6 2458.5,543.2 2458.8,578.6 2459.1,560.7 2459.4,571.9 2459.7,554.3 2460.0,560.9 2460.3,550.7 2460.6,548.9 2460.9,553.0 2461.2,554.6 2461.5,568.0 2461.8,551.5 2462.1,557.3 2462.4,551.7 2462.7,556.3 2463.0,543.1 2463.3,567.1 2463.6,552.6 2463.9,559.1 2464.2,557.7 2464.5,570.4 2464.8,567.0 2465.1,563.2 2465.4,565.7 2465.7,568.3 2466.0,573.2 2466.3,571.6 2466.6,579.9 2466.9,583.7 2467.2,574.7 2467.5,556.7 2467.8,586.7 2468.1,590.9 2468.4,567.2 2468.7,567.0 2469.0,551.5 2469.3,579.0 2469.6,562.1 2469.9,589.5 2470.2,548.3 2470.5,572.9 2470.8,578.8 2471.1,568.5 2471.4,564.8 2471.7,574.9 2472.0,567.5 2472.3,569.4 2472.6,572.3 2472.9,567.4 2473.2,570.6 2473.5,580.4 2473.8,569.1 2474.1,574.5 2474.4,565.6 2474.7,581.7 2475.0,560.6 2475.3,582.1 2475.6,543.9 2475.9,564.2 2476.2,557.7 2476.5,582.8 2476.8,575.6 2477.1,560.4 2477.4,567.5 2477.7,585.9 2478.0,572.4 2478.3,578.4 2478.6,558.5 2478.9,558.5 2479.2,578.4 2479.5,595.1 2479.8,567.8 2480.1,578.6 2480.4,563.9 2480.7,584.9 2481.0,568.5 2481.3,568.7 2481.6,554.7 2481.9,568.9 2482.3,574.7 2482.6,586.1 2482.9,561.6 2483.2,582.3 2483.5,569.6 2483.8,570.1 2484.1,563.7 2484.4,556.5 2484.7,561.1 2485.0,588.4 2485.3,561.3 2485.6,568.5 2485.9,583.3 2486.2,552.4 2486.5,576.9 2486.8,567.7 2487.1,574.4 2487.4,580.9 2487.7,571.1 2488.0,570.7 2488.3,579.5 2488.6,578.7 2488.9,565.6 2489.2,570.7 2489.5,559.6 2489.8,584.9 2490.1,560.8 2490.4,574.2 2490.7,589.2 2491.0,580.2 2491.3,569.6 2491.6,565.4 2491.9,566.4 2492.2,581.2 2492.5,575.6 2492.8,572.3 2493.1,597.4 2493.4,564.3 2493.7,567.6 2494.0,568.7 2494.3,574.3 2494.6,575.2 2494.9,569.6 2495.2,579.2 2495.5,577.3 2495.8,569.1 2496.1,548.4 2496.4,579.4 2496.7,562.6 2497.0,565.3 2497.3,570.1 2497.6,559.5 2497.9,563.4 2498.2,571.7 2498.5,567.5 2498.8,573.7 2499.1,562.2 2499.4,568.1 2499.7,559.9 2500.0,567.2 2500.3,572.5 2500.6,567.1 2500.9,555.5 2501.2,567.1 2501.5,570.0 2501.8,579.1 2502.1,567.5 2502.4,563.5 2502.7,555.7 2503.0,585.4 2503.3,556.5 2503.6,553.9 2503.9,562.1 2504.2,544.6 2504.5,570.3 2504.8,558.9 2505.1,557.8 2505.4,537.9 2505.7,534.5 2506.0,536.9 2506.3,523.3 2506.6,524.2 2506.9,486.3 2507.2,433.2 2507.5,425.7 2507.8,394.5 2508.1,383.8 2508.4,353.0 2508.7,347.8 2509.0,340.1 2509.3,359.8 2509.6,387.4 2509.9,392.2 2510.2,405.5 2510.5,441.6 2510.8,491.0 2511.1,499.5 2511.4,512.2 2511.7,519.8 2512.0,549.9 2512.3,550.5 2512.6,552.5 2512.9,552.4 2513.2,559.1 2513.5,559.6 2513.8,569.7 2514.1,577.5 2514.4,547.4 2514.7,553.0 2515.0,566.7 2515.3,568.9 2515.6,553.7 2515.9,563.0 2516.2,565.5 2516.5,565.4 2516.8,565.5 2517.1,569.4 2517.4,579.0 2517.7,577.8 2518.0,576.6 2518.3,573.7 2518.6,564.4 2518.9,566.8 2519.2,578.2 2519.5,572.8 2519.8,579.5 2520.1,574.4 2520.4,572.6 2520.7,576.3 2521.0,557.4 2521.3,570.7 2521.6,566.7 2521.9,580.5 2522.2,566.1 2522.5,574.8 2522.8,568.5 2523.1,577.2 2523.4,579.6 2523.7,570.7 2524.0,573.8 2524.3,574.5 2524.6,580.3 2524.9,569.7 2525.2,573.3 2525.5,568.9 2525.8,563.7 2526.1,574.7 2526.4,577.1 2526.7,565.3 2527.0,588.2 2527.3,565.9 2527.6,580.3 2527.9,576.7 2528.2,556.8 2528.5,572.9 2528.8,558.1 2529.1,572.2 2529.4,579.7 2529.7,591.0 2530.0,580.8 2530.3,558.6 2530.6,570.0 2530.9,587.8 2531.2,575.1 2531.5,590.4 2531.8,566.4 2532.1,568.1 2532.5,560.5 2532.8,569.8 2533.1,585.5 2533.4,564.6 2533.7,581.5 2534.0,577.9 2534.3,581.1 2534.6,571.1 2534.9,573.8 2535.2,594.1 2535.5,561.6 2535.8,580.9 2536.1,588.2 2536.4,578.1 2536.7,589.6 2537.0,545.1 2537.3,570.7 2537.6,562.4 2537.9,569.6 2538.2,572.6 2538.5,578.3 2538.8,565.4 2539.1,582.1 2539.4,558.5 2539.7,582.9 2540.0,571.2 2540.3,556.6 2540.6,556.6 2540.9,556.4 2541.2,564.0 2541.5,574.7 2541.8,586.3 2542.1,581.1 2542.4,560.8 2542.7,551.5 2543.0,570.7 2543.3,559.8 2543.6,571.8 2543.9,566.9 2544.2,598.2 2544.5,557.0 2544.8,576.5 2545.1,591.4 2545.4,569.6 2545.7,566.0 2546.0,589.6 2546.3,553.1 2546.6,557.0 2546.9,561.7 2547.2,577.3 2547.5,580.9 2547.8,572.3 2548.1,594.5 2548.4,571.6 2548.7,573.6 2549.0,570.6 2549.3,585.5 2549.6,573.8 2549.9,569.9 2550.2,590.0 2550.5,586.3 2550.8,583.6 2551.1,561.7 2551.4,563.6 2551.7,571.7 2552.0,571.5 2552.3,569.9 2552.6,571.9 2552.9,580.4 2553.2,564.4 2553.5,576.6 2553.8,570.4 2554.1,569.6 2554.4,571.6 2554.7,581.5 2555.0,577.1 2555.3,566.8 2555.6,577.6 2555.9,575.8 2556.2,578.5 2556.5,572.0 2556.8,584.3 2557.1,578.4 2557.4,563.7 2557.7,562.4 2558.0,561.2 2558.3,578.7 2558.6,568.2 2558.9,571.5 2559.2,574.2 2559.5,586.8 2559.8,596.1 2560.1,573.9 2560.4,594.3 2560.7,580.4 2561.0,586.7 2561.3,572.4 2561.6,563.2 2561.9,579.8 2562.2,587.6 2562.5,560.1 2562.8,574.6 2563.1,577.3 2563.4,580.9 2563.7,564.7 2564.0,569.8 2564.3,584.2 2564.6,592.6 2564.9,576.2 2565.2,584.7 2565.5,576.9 2565.8,579.4 2566.1,571.5 2566.4,573.0 2566.7,569.7 2567.0,576.2 2567.3,585.9 2567.6,577.1 2567.9,581.6 2568.2,569.1 2568.5,582.2 2568.8,544.8 2569.1,561.5 2569.4,572.0 2569.7,557.7 2570.0,580.7 2570.3,577.3 2570.6,566.4 2570.9,576.2 2571.2,560.7 2571.5,566.5 2571.8,571.5 2572.1,559.8 2572.4,585.3 2572.7,568.9 2573.0,585.1 2573.3,573.9 2573.6,578.3 2573.9,566.5 2574.2,572.3 2574.5,571.2 2574.8,577.5 2575.1,588.5 2575.4,569.9 2575.7,573.7 2576.0,578.7 2576.3,583.6 2576.6,574.2 2576.9,571.6 2577.2,569.6 2577.5,575.3 2577.8,577.6 2578.1,568.6 2578.4,572.3 2578.7,582.5 2579.0,575.0 2579.3,569.7 2579.6,582.0 2579.9,582.0 2580.2,581.0 2580.5,581.6 2580.8,571.3 2581.1,577.1 2581.4,578.1 2581.7,576.2 2582.0,558.1 2582.4,574.8 2582.7,578.3 2583.0,579.7 2583.3,572.0 2583.6,575.2 2583.9,557.4 2584.2,560.4 2584.5,546.2 2584.8,572.4 2585.1,590.2 2585.4,591.3 2585.7,563.6 2586.0,580.6 2586.3,586.3 2586.6,571.2 2586.9,555.1 2587.2,587.5 2587.5,570.2 2587.8,569.7 2588.1,589.7 2588.4,577.6 2588.7,580.9 2589.0,587.9 2589.3,570.8 2589.6,562.4 2589.9,578.9 2590.2,570.8 2590.5,577.2 2590.8,572.8 2591.1,560.2 2591.4,565.5 2591.7,558.7 2592.0,554.7 2592.3,549.3 2592.6,543.1 2592.9,528.5 2593.2,497.8 2593.5,496.8 2593.8,456.1 2594.1,471.0 2594.4,425.6 2594.7,422.8 2595.0,436.2 2595.3,431.0 2595.6,437.4 2595.9,456.1 2596.2,493.3 2596.5,513.8 2596.8,534.3 2597.1,542.2 2597.4,544.9 2597.7,561.2 2598.0,575.4 2598.3,557.2 2598.6,601.5 2598.9,564.5 2599.2,581.6 2599.5,588.4 2599.8,579.5 2600.1,574.0 2600.4,578.3 2600.7,584.4 2601.0,546.3 2601.3,576.1 2601.6,567.8 2601.9,564.8 2602.2,572.4 2602.5,572.5 2602.8,574.9 2603.1,563.4 2603.4,578.1 2603.7,544.5 2604.0,551.4 2604.3,543.6 2604.6,549.1 2604.9,534.3 2605.2,533.7 2605.5,509.7 2605.8,518.6 2606.1,504.3 2606.4,487.0 2606.7,475.7 2607.0,485.8 2607.3,491.5 2607.6,529.4 2607.9,536.2 2608.2,527.3 2608.5,566.7 2608.8,553.0 2609.1,539.7 2609.4,575.8 2609.7,580.6 2610.0,570.0 2610.3,562.5 2610.6,583.9 2610.9,567.8 2611.2,572.9 2611.5,577.9 2611.8,576.6 2612.1,569.5 2612.4,564.1 2612.7,581.6 2613.0,553.2 2613.3,577.8 2613.6,577.3 2613.9,579.9 2614.2,571.4 2614.5,577.1 2614.8,582.7 2615.1,565.1 2615.4,575.7 2615.7,578.9 2616.0,563.2 2616.3,566.2 2616.6,590.6 2616.9,585.4 2617.2,568.3 2617.5,582.4 2617.8,579.4 2618.1,589.0 2618.4,586.4 2618.7,552.1 2619.0,572.5 2619.3,588.6 2619.6,591.1 2619.9,569.4 2620.2,563.4 2620.5,577.6 2620.8,568.9 2621.1,574.8 2621.4,563.4 2621.7,581.7 2622.0,579.3 2622.3,577.3 2622.6,560.8 2622.9,553.0 2623.2,554.0 2623.5,567.4 2623.8,541.2 2624.1,560.7 2624.4,568.4 2624.7,544.1 2625.0,549.5 2625.3,563.8 2625.6,567.2 2625.9,556.6 2626.2,564.4 2626.5,570.2 2626.8,568.6 2627.1,578.1 2627.4,576.6 2627.7,586.5 2628.0,557.8 2628.3,585.7 2628.6,582.3 2628.9,573.1 2629.2,578.4 2629.5,583.7 2629.8,577.1 2630.1,571.6 2630.4,576.5 2630.7,566.8 2631.0,560.4 2631.3,564.0 2631.6,564.0 2631.9,571.7 2632.2,575.3 2632.6,566.7 2632.9,573.9 2633.2,553.1 2633.5,540.3 2633.8,530.8 2634.1,519.7 2634.4,516.3 2634.7,524.9 2635.0,493.2 2635.3,512.6 2635.6,511.6 2635.9,527.3 2636.2,524.0 2636.5,544.9 2636.8,541.9 2637.1,560.2 2637.4,541.4 2637.7,569.4 2638.0,575.1 2638.3,554.9 2638.6,579.9 2638.9,561.9 2639.2,583.0 2639.5,574.0 2639.8,581.0 2640.1,578.2 2640.4,563.4 2640.7,589.9 2641.0,586.9 2641.3,565.6 2641.6,580.9 2641.9,580.0 2642.2,569.2 2642.5,565.7 2642.8,588.1 2643.1,572.0 2643.4,584.6 2643.7,594.2 2644.0,580.6 2644.3,567.5 2644.6,585.5 2644.9,562.8 2645.2,567.3 2645.5,604.1 2645.8,568.4 2646.1,579.4 2646.4,565.8 2646.7,574.8 2647.0,577.9 2647.3,550.5 2647.6,569.6 2647.9,582.2 2648.2,584.1 2648.5,579.0 2648.8,566.6 2649.1,579.4 2649.4,570.8 2649.7,568.0 2650.0,575.4 2650.3,597.1 2650.6,566.5 2650.9,585.1 2651.2,577.4 2651.5,560.6 2651.8,566.0 2652.1,573.0 2652.4,569.9 2652.7,576.9 2653.0,564.7 2653.3,564.3 2653.6,583.5 2653.9,573.3 2654.2,565.2 2654.5,573.1 2654.8,590.4 2655.1,566.8 2655.4,557.6 2655.7,580.3 2656.0,589.4 2656.3,581.6 2656.6,555.6 2656.9,546.9 2657.2,576.9 2657.5,560.9 2657.8,564.9 2658.1,555.6 2658.4,570.7 2658.7,552.6 2659.0,546.4 2659.3,549.0 2659.6,535.0 2659.9,547.8 2660.2,545.9 2660.5,527.5 2660.8,538.1 2661.1,538.2 2661.4,536.1 2661.7,555.0 2662.0,562.0 2662.3,552.6 2662.6,531.9 2662.9,523.1 2663.2,538.5 2663.5,514.7 2663.8,499.0 2664.1,466.2 2664.4,436.1 2664.7,455.0 2665.0,411.9 2665.3,408.9 2665.6,401.4 2665.9,432.8 2666.2,419.0 2666.5,419.7 2666.8,412.4 2667.1,393.4 2667.4,379.7 2667.7,313.3 2668.0,295.6 2668.3,239.2 2668.6,197.0 2668.9,155.1 2669.2,134.5 2669.5,101.2 2669.8,108.3 2670.1,135.5 2670.4,155.1 2670.7,195.7 2671.0,247.9 2671.3,289.3 2671.6,326.3 2671.9,365.2 2672.2,383.8 2672.5,419.2 2672.8,410.1 2673.1,406.2 2673.4,419.8 2673.7,393.4 2674.0,387.4 2674.3,390.5 2674.6,404.7 2674.9,408.3 2675.2,430.4 2675.5,454.9 2675.8,486.3 2676.1,498.7 2676.4,523.0 2676.7,546.7 2677.0,541.0 2677.3,546.2 2677.6,545.4 2677.9,550.2 2678.2,547.7 2678.5,550.8 2678.8,557.0 2679.1,566.9 2679.4,569.2 2679.7,561.1 2680.0,569.0 2680.3,554.0 2680.6,586.8 2680.9,591.0 2681.2,566.5 2681.5,572.8 2681.8,569.1 2682.1,575.8 2682.4,562.4 2682.8,553.9 2683.1,576.2 2683.4,557.9 2683.7,571.6 2684.0,559.1 2684.3,560.2 2684.6,576.5 2684.9,581.8 2685.2,563.8 2685.5,559.7 2685.8,564.4 2686.1,553.2 2686.4,537.6 2686.7,548.1 2687.0,519.2 2687.3,534.8 2687.6,513.6 2687.9,505.6 2688.2,473.0 2688.5,461.8 2688.8,455.8 2689.1,445.8 2689.4,425.9 2689.7,411.6 2690.0,393.7 2690.3,413.5 2690.6,419.5 2690.9,430.1 2691.2,463.4 2691.5,462.4 2691.8,504.9 2692.1,498.7 2692.4,513.2 2692.7,531.2 2693.0,529.6 2693.3,545.6 2693.6,556.9 2693.9,544.4 2694.2,556.0 2694.5,553.0 2694.8,563.8 2695.1,580.3 2695.4,566.1 2695.7,569.3 2696.0,573.9 2696.3,561.6 2696.6,574.8 2696.9,568.1 2697.2,567.2 2697.5,557.3 2697.8,567.9 2698.1,584.2 2698.4,586.1 2698.7,571.9 2699.0,575.6 2699.3,571.0 2699.6,564.7 2699.9,558.2 2700.2,591.9 2700.5,566.2 2700.8,577.8 2701.1,590.8 2701.4,572.4 2701.7,574.6 2702.0,578.8 2702.3,572.9 2702.6,578.8 2702.9,573.2 2703.2,587.3 2703.5,581.1 2703.8,565.1 2704.1,563.6 2704.4,570.2 2704.7,570.4 2705.0,569.1 2705.3,584.9 2705.6,569.0 2705.9,571.3 2706.2,576.8 2706.5,556.0 2706.8,578.8 2707.1,579.6 2707.4,586.7 2707.7,562.8 2708.0,566.2 2708.3,570.5 2708.6,561.8 2708.9,547.1 2709.2,563.6 2709.5,544.2 2709.8,539.8 2710.1,513.4 2710.4,517.8 2710.7,488.3 2711.0,467.0 2711.3,464.2 2711.6,452.5 2711.9,422.8 2712.2,437.7 2712.5,447.4 2712.8,444.7 2713.1,443.6 2713.4,480.0 2713.7,502.7 2714.0,499.7 2714.3,540.8 2714.6,535.8 2714.9,547.1 2715.2,567.0 2715.5,564.7 2715.8,579.2 2716.1,570.4 2716.4,576.6 2716.7,574.8 2717.0,578.1 2717.3,582.3 2717.6,582.1 2717.9,575.2 2718.2,587.5 2718.5,578.2 2718.8,590.9 2719.1,585.6 2719.4,579.2 2719.7,573.3 2720.0,581.0 2720.3,594.1 2720.6,582.9 2720.9,590.6 2721.2,580.6 2721.5,578.6 2721.8,575.1 2722.1,563.3 2722.4,585.1 2722.7,582.6 2723.0,581.9 2723.3,589.9 2723.6,573.1 2723.9,599.0 2724.2,568.8 2724.5,585.3 2724.8,571.6 2725.1,580.5 2725.4,594.3 2725.7,569.0 2726.0,585.1 2726.3,584.5 2726.6,585.2 2726.9,586.1 2727.2,591.4 2727.5,588.5 2727.8,587.4 2728.1,592.4 2728.4,590.2 2728.7,582.6 2729.0,572.1 2729.3,591.5 2729.6,580.6 2729.9,599.7 2730.2,578.6 2730.5,572.4 2730.8,594.9 2731.1,576.9 2731.4,569.7 2731.7,595.3 2732.0,570.1 2732.3,596.7 2732.7,574.9 2733.0,588.0 2733.3,586.2 2733.6,566.7 2733.9,584.0 2734.2,580.1 2734.5,585.4 2734.8,589.3 2735.1,599.3 2735.4,581.9 2735.7,583.2 2736.0,604.9 2736.3,591.2 2736.6,591.5 2736.9,569.5 2737.2,570.8 2737.5,578.9 2737.8,582.4 2738.1,588.9 2738.4,610.5 2738.7,572.2 2739.0,580.3 2739.3,590.3 2739.6,586.9 2739.9,595.1 2740.2,581.5 2740.5,575.7 2740.8,604.4 2741.1,588.5 2741.4,572.8 2741.7,581.0 2742.0,583.7 2742.3,570.0 2742.6,591.7 2742.9,585.7 2743.2,580.7 2743.5,578.0 2743.8,600.0 2744.1,583.5 2744.4,576.8 2744.7,564.5 2745.0,574.0 2745.3,590.8 2745.6,598.5 2745.9,573.0 2746.2,564.5 2746.5,584.5 2746.8,583.7 2747.1,592.4 2747.4,577.3 2747.7,585.2 2748.0,566.3 2748.3,572.3 2748.6,578.9 2748.9,579.9 2749.2,589.2 2749.5,595.9 2749.8,570.5 2750.1,600.3 2750.4,577.0 2750.7,580.1 2751.0,595.0 2751.3,561.1 2751.6,570.3 2751.9,576.3 2752.2,585.0 2752.5,594.6 2752.8,594.8 2753.1,575.5 2753.4,591.5 2753.7,580.2 2754.0,598.6 2754.3,581.6 2754.6,594.5 2754.9,574.4 2755.2,591.8 2755.5,571.2 2755.8,585.4 2756.1,568.8 2756.4,583.0 2756.7,576.8 2757.0,575.0 2757.3,586.7 2757.6,591.9 2757.9,585.5 2758.2,587.4 2758.5,591.3 2758.8,596.1 2759.1,594.2 2759.4,588.3 2759.7,603.6 2760.0,579.5 2760.3,592.1 2760.6,573.4 2760.9,607.3 2761.2,582.0 2761.5,585.8 2761.8,597.5 2762.1,582.4 2762.4,576.1 2762.7,566.3 2763.0,581.3 2763.3,603.4 2763.6,585.1 2763.9,599.3 2764.2,588.3 2764.5,569.5 2764.8,549.3 2765.1,554.1 2765.4,568.8 2765.7,571.7 2766.0,581.9 2766.3,588.2 2766.6,579.9 2766.9,569.7 2767.2,580.6 2767.5,589.4 2767.8,576.0 2768.1,573.8 2768.4,574.4 2768.7,581.8 2769.0,582.8 2769.3,583.5 2769.6,571.8 2769.9,584.3 2770.2,578.0 2770.5,574.9 2770.8,566.2 2771.1,573.3 2771.4,578.1 2771.7,585.4 2772.0,587.9 2772.3,584.3 2772.6,586.2 2772.9,573.1 2773.2,591.7 2773.5,591.8 2773.8,590.6 2774.1,579.3 2774.4,583.2 2774.7,579.6 2775.0,571.4 2775.3,580.8 2775.6,569.2 2775.9,567.1 2776.2,589.4 2776.5,589.4 2776.8,592.1 2777.1,579.9 2777.4,584.4 2777.7,589.3 2778.0,580.6 2778.3,564.6 2778.6,605.7 2778.9,596.1 2779.2,596.3 2779.5,585.1 2779.8,576.6 2780.1,585.1 2780.4,587.1 2780.7,571.2 2781.0,579.8 2781.3,589.8 2781.6,598.9 2781.9,590.3 2782.2,580.6 2782.5,572.2 2782.9,604.0 2783.2,585.7 2783.5,591.9 2783.8,584.9 2784.1,571.7 2784.4,605.4 2784.7,591.0 2785.0,596.3 2785.3,577.0 2785.6,584.3 2785.9,597.7 2786.2,581.2 2786.5,577.7 2786.8,573.8 2787.1,571.6 2787.4,592.5 2787.7,584.0 2788.0,567.3 2788.3,599.3 2788.6,596.9 2788.9,595.8 2789.2,566.9 2789.5,585.7 2789.8,597.2 2790.1,574.8 2790.4,577.1 2790.7,582.5 2791.0,565.4 2791.3,586.9 2791.6,594.4 2791.9,591.3 2792.2,599.3 2792.5,585.8 2792.8,584.6 2793.1,583.1 2793.4,578.2 2793.7,574.7 2794.0,577.9 2794.3,584.2 2794.6,579.8 2794.9,586.1 2795.2,585.8 2795.5,591.2 2795.8,580.1 2796.1,565.2 2796.4,575.8 2796.7,603.5 2797.0,592.4 2797.3,581.2 2797.6,583.2 2797.9,584.3 2798.2,580.6 2798.5,587.1 2798.8,591.8 2799.1,596.9 2799.4,581.7 2799.7,582.4 2800.0,582.0 2800.3,585.5 2800.6,595.4 2800.9,577.9 2801.2,606.4 2801.5,590.5 2801.8,595.8 2802.1,576.5 2802.4,581.5 2802.7,580.1 2803.0,585.5 2803.3,565.5 2803.6,589.8 2803.9,568.8 2804.2,588.5 2804.5,594.7 2804.8,584.3 2805.1,583.1 2805.4,583.1 2805.7,582.5 2806.0,587.0 2806.3,593.1 2806.6,590.4 2806.9,598.4 2807.2,584.6 2807.5,578.5 2807.8,578.4 2808.1,570.3 2808.4,577.5 2808.7,574.2 2809.0,595.2 2809.3,580.7 2809.6,589.9 2809.9,550.4 2810.2,566.9 2810.5,568.3 2810.8,555.3 2811.1,540.9 2811.4,539.9 2811.7,532.4 2812.0,526.6 2812.3,523.3 2812.6,527.4 2812.9,520.5 2813.2,523.7 2813.5,525.7 2813.8,536.1 2814.1,531.8 2814.4,551.3 2814.7,549.6 2815.0,567.3 2815.3,559.1 2815.6,569.0 2815.9,571.8 2816.2,567.0 2816.5,589.2 2816.8,584.6 2817.1,582.8 2817.4,595.2 2817.7,581.1 2818.0,584.6 2818.3,595.8 2818.6,609.0 2818.9,586.7 2819.2,601.6 2819.5,588.0 2819.8,578.9 2820.1,591.5 2820.4,598.6 2820.7,588.8 2821.0,591.5 2821.3,576.7 2821.6,565.4 2821.9,589.4 2822.2,573.4 2822.5,586.3 2822.8,580.6 2823.1,588.2 2823.4,594.9 2823.7,570.6 2824.0,585.1 2824.3,585.0 2824.6,599.2 2824.9,587.0 2825.2,578.5 2825.5,580.7 2825.8,603.5 2826.1,577.7 2826.4,586.6 2826.7,588.6 2827.0,575.0 2827.3,578.0 2827.6,566.8 2827.9,576.7 2828.2,591.4 2828.5,586.7 2828.8,566.0 2829.1,597.1 2829.4,569.8 2829.7,572.2 2830.0,595.1 2830.3,582.5 2830.6,575.2 2830.9,587.7 2831.2,570.0 2831.5,570.9 2831.8,558.9 2832.1,559.9 2832.4,557.1 2832.7,565.2 2833.1,546.1 2833.4,548.3 2833.7,528.5 2834.0,532.9 2834.3,556.9 2834.6,548.5 2834.9,551.5 2835.2,563.7 2835.5,558.1 2835.8,565.6 2836.1,565.3 2836.4,551.8 2836.7,579.7 2837.0,590.6 2837.3,589.8 2837.6,581.0 2837.9,584.4 2838.2,586.8 2838.5,598.5 2838.8,596.3 2839.1,582.2 2839.4,584.7 2839.7,584.4 2840.0,581.1 2840.3,580.9 2840.6,585.7 2840.9,564.1 2841.2,590.7 2841.5,582.9 2841.8,575.8 2842.1,585.6 2842.4,580.3 2842.7,599.0 2843.0,577.1 2843.3,588.3 2843.6,591.0 2843.9,579.8 2844.2,576.1 2844.5,591.5 2844.8,584.2 2845.1,579.1 2845.4,574.4 2845.7,593.9 2846.0,602.5 2846.3,583.2 2846.6,593.3 2846.9,598.7 2847.2,597.9 2847.5,583.0 2847.8,593.6 2848.1,595.1 2848.4,612.7 2848.7,590.8 2849.0,598.8 2849.3,596.7 2849.6,595.2 2849.9,579.8 2850.2,591.9 2850.5,603.4 2850.8,585.8 2851.1,591.6 2851.4,582.1 2851.7,592.0 2852.0,592.8 2852.3,596.1 2852.6,585.8 2852.9,585.6 2853.2,584.3 2853.5,592.1 2853.8,591.3 2854.1,610.6 2854.4,583.7 2854.7,596.0 2855.0,584.5 2855.3,585.2 2855.6,599.7 2855.9,593.5 2856.2,594.6 2856.5,577.1 2856.8,613.8 2857.1,609.0 2857.4,583.0 2857.7,577.1 2858.0,582.9 2858.3,591.8 2858.6,580.9 2858.9,592.1 2859.2,583.4 2859.5,615.1 2859.8,587.3 2860.1,585.2 2860.4,608.0 2860.7,592.4 2861.0,589.3 2861.3,588.8 2861.6,594.4 2861.9,585.1 2862.2,590.0 2862.5,583.8 2862.8,576.2 2863.1,585.6 2863.4,590.0 2863.7,603.0 2864.0,589.9 2864.3,584.2 2864.6,588.0 2864.9,591.6 2865.2,564.2 2865.5,580.0 2865.8,562.3 2866.1,564.2 2866.4,571.3 2866.7,574.3 2867.0,572.9 2867.3,570.4 2867.6,578.0 2867.9,566.4 2868.2,562.6 2868.5,553.2 2868.8,572.1 2869.1,565.0 2869.4,547.5 2869.7,548.7 2870.0,563.3 2870.3,568.2 2870.6,559.2 2870.9,576.1 2871.2,558.1 2871.5,570.9 2871.8,584.8 2872.1,572.6 2872.4,581.5 2872.7,581.9 2873.0,581.1 2873.3,567.3 2873.6,582.6 2873.9,587.9 2874.2,588.6 2874.5,594.2 2874.8,596.0 2875.1,584.1 2875.4,585.4 2875.7,603.1 2876.0,595.6 2876.3,587.4 2876.6,585.0 2876.9,596.6 2877.2,596.1 2877.5,584.8 2877.8,589.0 2878.1,584.1 2878.4,582.1 2878.7,598.2 2879.0,566.9 2879.3,583.4 2879.6,563.6 2879.9,563.6 2880.2,574.1 2880.5,549.6 2880.8,548.4 2881.1,541.5 2881.4,541.4 2881.7,544.6 2882.0,547.7 2882.3,526.2 2882.6,537.1 2883.0,514.5 2883.3,544.3 2883.6,520.2 2883.9,521.3 2884.2,530.9 2884.5,533.0 2884.8,535.1 2885.1,525.8 2885.4,554.8 2885.7,558.7 2886.0,553.3 2886.3,550.8 2886.6,568.6 2886.9,580.4 2887.2,557.1 2887.5,565.8 2887.8,579.7 2888.1,573.3 2888.4,579.4 2888.7,583.0 2889.0,592.4 2889.3,593.3 2889.6,596.0 2889.9,595.8 2890.2,581.9 2890.5,565.7 2890.8,591.4 2891.1,592.9 2891.4,593.1 2891.7,582.8 2892.0,607.3 2892.3,573.8 2892.6,597.2 2892.9,595.6 2893.2,598.5 2893.5,603.0 2893.8,594.7 2894.1,593.3 2894.4,587.5 2894.7,597.5 2895.0,594.0 2895.3,598.0 2895.6,579.8 2895.9,576.3 2896.2,591.2 2896.5,595.6 2896.8,576.4 2897.1,581.3 2897.4,587.6 2897.7,593.6 2898.0,594.0 2898.3,600.3 2898.6,589.5 2898.9,595.1 2899.2,603.2 2899.5,588.7 2899.8,612.5 2900.1,587.9 2900.4,592.5 2900.7,573.7 2901.0,590.6 2901.3,586.5 2901.6,585.5 2901.9,594.3 2902.2,581.3 2902.5,593.7 2902.8,573.0 2903.1,587.0 2903.4,604.4 2903.7,592.9 2904.0,597.4 2904.3,583.2 2904.6,579.5 2904.9,604.7 2905.2,601.3 2905.5,599.8 2905.8,591.8 2906.1,602.8 2906.4,587.9 2906.7,598.3 2907.0,598.0 2907.3,583.6 2907.6,605.2 2907.9,593.2 2908.2,599.6 2908.5,578.0 2908.8,580.9 2909.1,588.1 2909.4,596.8 2909.7,602.9 2910.0,595.6 2910.3,590.9 2910.6,597.5 2910.9,590.0 2911.2,593.7 2911.5,595.9 2911.8,585.8 2912.1,596.0 2912.4,578.6 2912.7,584.5 2913.0,598.4 2913.3,586.2 2913.6,596.7 2913.9,594.3 2914.2,590.4 2914.5,606.4 2914.8,596.7 2915.1,586.8 2915.4,587.5 2915.7,593.4 2916.0,578.3 2916.3,603.0 2916.6,591.6 2916.9,576.2 2917.2,583.0 2917.5,605.5 2917.8,594.3 2918.1,612.5 2918.4,592.4 2918.7,596.6 2919.0,610.5 2919.3,612.2 2919.6,583.5 2919.9,600.5 2920.2,582.4 2920.5,587.8 2920.8,575.8 2921.1,597.6 2921.4,582.6 2921.7,584.8 2922.0,610.1 2922.3,600.4 2922.6,590.4 2922.9,575.1 2923.2,594.9 2923.5,570.3 2923.8,583.2 2924.1,597.8 2924.4,599.0 2924.7,592.7 2925.0,598.8 2925.3,592.8 2925.6,583.5 2925.9,590.7 2926.2,606.3 2926.5,589.2 2926.8,591.9 2927.1,593.3 2927.4,574.2 2927.7,576.2 2928.0,569.5 2928.3,585.6 2928.6,576.5 2928.9,565.6 2929.2,562.3 2929.5,577.8 2929.8,575.5 2930.1,568.4 2930.4,561.8 2930.7,563.9 2931.0,557.8 2931.3,560.4 2931.6,553.7 2931.9,549.5 2932.2,554.3 2932.5,566.6 2932.8,583.1 2933.2,562.5 2933.5,563.2 2933.8,583.4 2934.1,586.0 2934.4,574.7 2934.7,577.8 2935.0,579.3 2935.3,589.2 2935.6,615.9 2935.9,581.0 2936.2,591.2 2936.5,584.1 2936.8,590.5 2937.1,593.2 2937.4,592.1 2937.7,580.2 2938.0,580.4 2938.3,598.5 2938.6,592.3 2938.9,591.6 2939.2,595.3 2939.5,582.8 2939.8,601.2 2940.1,582.2 2940.4,579.8 2940.7,580.5 2941.0,588.6 2941.3,614.5 2941.6,590.2 2941.9,592.5 2942.2,604.1 2942.5,586.2 2942.8,576.4 2943.1,583.7 2943.4,586.0 2943.7,574.1 2944.0,586.9 2944.3,590.4 2944.6,608.5 2944.9,596.8 2945.2,590.5 2945.5,584.4 2945.8,582.4 2946.1,572.2 2946.4,587.8 2946.7,567.9 2947.0,587.6 2947.3,604.5 2947.6,585.3 2947.9,592.9 2948.2,580.7 2948.5,571.2 2948.8,591.2 2949.1,586.4 2949.4,593.1 2949.7,589.9 2950.0,594.4 2950.3,584.2 2950.6,593.7 2950.9,598.1 2951.2,583.6 2951.5,585.5 2951.8,598.4 2952.1,593.1 2952.4,586.4 2952.7,574.0 2953.0,585.7 2953.3,602.3 2953.6,584.1 2953.9,586.4 2954.2,579.6 2954.5,587.0 2954.8,587.9 2955.1,590.4 2955.4,581.5 2955.7,576.9 2956.0,606.8 2956.3,588.3 2956.6,578.4 2956.9,584.2 2957.2,589.3 2957.5,593.7 2957.8,584.5 2958.1,576.1 2958.4,580.7 2958.7,559.0 2959.0,558.7 2959.3,574.4 2959.6,560.2 2959.9,554.0 2960.2,546.5 2960.5,541.5 2960.8,556.8 2961.1,558.5 2961.4,578.9 2961.7,559.4 2962.0,571.9 2962.3,572.4 2962.6,570.5 2962.9,598.4 2963.2,596.0 2963.5,585.8 2963.8,572.2 2964.1,588.8 2964.4,591.0 2964.7,580.9 2965.0,571.8 2965.3,603.7 2965.6,574.1 2965.9,597.2 2966.2,580.8 2966.5,583.4 2966.8,596.7 2967.1,576.5 2967.4,584.1 2967.7,586.7 2968.0,598.3 2968.3,596.6 2968.6,588.3 2968.9,575.3 2969.2,598.0 2969.5,582.7 2969.8,589.2 2970.1,568.9 2970.4,584.6 2970.7,590.8 2971.0,582.6 2971.3,591.5 2971.6,597.8 2971.9,600.3 2972.2,580.1 2972.5,570.8 2972.8,561.9 2973.1,581.7 2973.4,569.3 2973.7,588.8 2974.0,564.5 2974.3,594.2 2974.6,584.4 2974.9,568.7 2975.2,586.1 2975.5,588.8 2975.8,588.5 2976.1,582.9 2976.4,588.6 2976.7,587.6 2977.0,579.2 2977.3,583.1 2977.6,569.8 2977.9,589.1 2978.2,569.5 2978.5,579.8 2978.8,569.7 2979.1,588.9 2979.4,580.8 2979.7,568.7 2980.0,580.3 2980.3,574.9 2980.6,582.5 2980.9,575.9 2981.2,574.3 2981.5,571.8 2981.8,557.7 2982.1,577.0 2982.4,578.7 2982.5,561.9 2982.5,575.0" fill="none" stroke="#231f20" stroke-width="3" stroke-linejoin="round" stroke-linecap="round"/>
<rect x="213.55" y="27.35" width="825.93" height="617.15" fill="none" stroke="#231f20" stroke-width="2.8"/><line x1="288.63" y1="644.5" x2="288.63" y2="659.2" stroke="#231f20" stroke-width="2.8"/><text x="288.6" y="715.8" text-anchor="middle" font-size="50.5">10</text><line x1="438.81" y1="644.5" x2="438.81" y2="659.2" stroke="#231f20" stroke-width="2.8"/><text x="438.8" y="715.8" text-anchor="middle" font-size="50.5">20</text><line x1="588.98" y1="644.5" x2="588.98" y2="659.2" stroke="#231f20" stroke-width="2.8"/><text x="589.0" y="715.8" text-anchor="middle" font-size="50.5">30</text><line x1="739.14" y1="644.5" x2="739.14" y2="659.2" stroke="#231f20" stroke-width="2.8"/><text x="739.1" y="715.8" text-anchor="middle" font-size="50.5">40</text><line x1="889.32" y1="644.5" x2="889.32" y2="659.2" stroke="#231f20" stroke-width="2.8"/><text x="889.3" y="715.8" text-anchor="middle" font-size="50.5">50</text><line x1="1039.48" y1="644.5" x2="1039.48" y2="659.2" stroke="#231f20" stroke-width="2.8"/><text x="1039.5" y="715.8" text-anchor="middle" font-size="50.5">60</text><text transform="translate(183.3,499.75) rotate(-90)" font-size="51.0" textLength="326.14" lengthAdjust="spacingAndGlyphs">Intensity (a.u.)</text><text x="563.85" y="780.8" font-size="51.0" textLength="124.40" lengthAdjust="spacingAndGlyphs">2<tspan font-style="italic">&#977;</tspan> (&#176;)</text><text x="138.91" y="49.2" font-size="51.0" textLength="30.38" lengthAdjust="spacingAndGlyphs"><tspan>A</tspan></text><text x="1108.62" y="49.2" font-size="51.0" textLength="29.95" lengthAdjust="spacingAndGlyphs"><tspan>B</tspan></text><text x="2078.98" y="49.0" font-size="51.0" textLength="30.10" lengthAdjust="spacingAndGlyphs"><tspan>C</tspan></text><use href="#sq" x="789.4" y="61.5"/><text x="813.12" y="78.0" font-size="51.0" textLength="147.55" lengthAdjust="spacingAndGlyphs"><tspan>Ti</tspan><tspan font-size="29.0" dy="10.7">3</tspan><tspan dy="-10.7">AlC</tspan><tspan font-size="29.0" dy="10.7">2</tspan></text><use href="#dia" x="789.4" y="109.8"/><text x="813.08" y="129.8" font-size="51.0" textLength="159.15" lengthAdjust="spacingAndGlyphs"><tspan>MXene</tspan></text><use href="#spade" x="790.7" y="162.3"/><text x="813.27" y="181.5" font-size="51.0" textLength="163.50" lengthAdjust="spacingAndGlyphs"><tspan>NH</tspan><tspan font-size="29.0" dy="10.7">4</tspan><tspan dy="-10.7">HF</tspan><tspan font-size="29.0" dy="10.7">2</tspan></text><use href="#heart" x="789.4" y="215.2"/><text x="813.26" y="233.8" font-size="51.0" textLength="223.46" lengthAdjust="spacingAndGlyphs"><tspan>(NH</tspan><tspan font-size="29.0" dy="10.7">4</tspan><tspan dy="-10.7">)</tspan><tspan font-size="29.0" dy="10.7">3</tspan><tspan dy="-10.7">AlF</tspan><tspan font-size="29.0" dy="10.7">6</tspan></text><use href="#club" x="789.4" y="268.8"/><text x="814.21" y="285.2" font-size="51.0" textLength="219.42" lengthAdjust="spacingAndGlyphs"><tspan>AlF</tspan><tspan font-size="29.0" dy="10.7">3</tspan><tspan dy="-10.7">-3H</tspan><tspan font-size="29.0" dy="10.7">2</tspan><tspan dy="-10.7">O</tspan></text><use href="#dag" x="789.4" y="317.0"/><text x="812.96" y="337.0" font-size="51.0" textLength="207.85" lengthAdjust="spacingAndGlyphs"><tspan>(NH</tspan><tspan font-size="29.0" dy="10.7">4</tspan><tspan dy="-10.7">)AlF</tspan><tspan font-size="29.0" dy="10.7">4</tspan></text><use href="#tri" x="789.4" y="373.8"/><text x="814.21" y="388.8" font-size="51.0" textLength="85.98" lengthAdjust="spacingAndGlyphs"><tspan>AlF</tspan><tspan font-size="29.0" dy="10.7">3</tspan></text><rect x="1186.55" y="27.35" width="825.88" height="617.15" fill="none" stroke="#231f20" stroke-width="2.8"/><line x1="1261.63" y1="644.5" x2="1261.63" y2="659.2" stroke="#231f20" stroke-width="2.8"/><text x="1261.6" y="715.8" text-anchor="middle" font-size="50.5">10</text><line x1="1411.79" y1="644.5" x2="1411.79" y2="659.2" stroke="#231f20" stroke-width="2.8"/><text x="1411.8" y="715.8" text-anchor="middle" font-size="50.5">20</text><line x1="1561.95" y1="644.5" x2="1561.95" y2="659.2" stroke="#231f20" stroke-width="2.8"/><text x="1561.9" y="715.8" text-anchor="middle" font-size="50.5">30</text><line x1="1712.11" y1="644.5" x2="1712.11" y2="659.2" stroke="#231f20" stroke-width="2.8"/><text x="1712.1" y="715.8" text-anchor="middle" font-size="50.5">40</text><line x1="1862.27" y1="644.5" x2="1862.27" y2="659.2" stroke="#231f20" stroke-width="2.8"/><text x="1862.3" y="715.8" text-anchor="middle" font-size="50.5">50</text><line x1="2012.43" y1="644.5" x2="2012.43" y2="659.2" stroke="#231f20" stroke-width="2.8"/><text x="2012.4" y="715.8" text-anchor="middle" font-size="50.5">60</text><text transform="translate(1156.4,499.75) rotate(-90)" font-size="51.0" textLength="326.14" lengthAdjust="spacingAndGlyphs">Intensity (a.u.)</text><text x="1536.95" y="780.8" font-size="51.0" textLength="124.40" lengthAdjust="spacingAndGlyphs">2<tspan font-style="italic">&#977;</tspan> (&#176;)</text><use href="#sq" x="1215.5" y="61.3"/><text x="1253.82" y="77.5" font-size="51.0" textLength="147.55" lengthAdjust="spacingAndGlyphs"><tspan>Ti</tspan><tspan font-size="29.0" dy="10.7">3</tspan><tspan dy="-10.7">AlC</tspan><tspan font-size="29.0" dy="10.7">2</tspan></text><use href="#dia" x="1216.5" y="110.6"/><text x="1254.49" y="129.0" font-size="51.0" textLength="158.63" lengthAdjust="spacingAndGlyphs"><tspan>MXene</tspan></text><use href="#spade" x="1217.6" y="162.5"/><text x="1254.74" y="180.8" font-size="51.0" textLength="137.81" lengthAdjust="spacingAndGlyphs"><tspan>NaHF</tspan><tspan font-size="29.0" dy="10.7">2</tspan></text><use href="#heart" x="1216.5" y="215.5"/><text x="1254.61" y="233.0" font-size="51.0" textLength="165.91" lengthAdjust="spacingAndGlyphs"><tspan>Na</tspan><tspan font-size="29.0" dy="10.7">3</tspan><tspan dy="-10.7">AlF</tspan><tspan font-size="29.0" dy="10.7">6</tspan></text><use href="#club" x="1492.8" y="58.4"/><text x="1530.61" y="75.5" font-size="51.0" textLength="218.00" lengthAdjust="spacingAndGlyphs"><tspan>AlF</tspan><tspan font-size="29.0" dy="10.7">3</tspan><tspan dy="-10.7">-3H</tspan><tspan font-size="29.0" dy="10.7">2</tspan><tspan dy="-10.7">O</tspan></text><use href="#dag" x="1491.7" y="107.7"/><text x="1529.73" y="127.8" font-size="51.0" textLength="149.78" lengthAdjust="spacingAndGlyphs"><tspan>NaAlF</tspan><tspan font-size="29.0" dy="10.7">4</tspan></text><use href="#tri" x="1493.1" y="163.6"/><text x="1530.61" y="179.7" font-size="51.0" textLength="86.08" lengthAdjust="spacingAndGlyphs"><tspan>AlF</tspan><tspan font-size="29.0" dy="10.7">3</tspan></text><rect x="2156.60" y="27.35" width="826.92" height="617.15" fill="none" stroke="#231f20" stroke-width="2.8"/><line x1="2231.78" y1="644.5" x2="2231.78" y2="659.2" stroke="#231f20" stroke-width="2.8"/><text x="2231.8" y="715.8" text-anchor="middle" font-size="50.5">10</text><line x1="2382.12" y1="644.5" x2="2382.12" y2="659.2" stroke="#231f20" stroke-width="2.8"/><text x="2382.1" y="715.8" text-anchor="middle" font-size="50.5">20</text><line x1="2532.47" y1="644.5" x2="2532.47" y2="659.2" stroke="#231f20" stroke-width="2.8"/><text x="2532.5" y="715.8" text-anchor="middle" font-size="50.5">30</text><line x1="2682.82" y1="644.5" x2="2682.82" y2="659.2" stroke="#231f20" stroke-width="2.8"/><text x="2682.8" y="715.8" text-anchor="middle" font-size="50.5">40</text><line x1="2833.18" y1="644.5" x2="2833.18" y2="659.2" stroke="#231f20" stroke-width="2.8"/><text x="2833.2" y="715.8" text-anchor="middle" font-size="50.5">50</text><line x1="2983.52" y1="644.5" x2="2983.52" y2="659.2" stroke="#231f20" stroke-width="2.8"/><text x="2983.5" y="715.8" text-anchor="middle" font-size="50.5">60</text><text transform="translate(2126.3,499.75) rotate(-90)" font-size="51.0" textLength="326.14" lengthAdjust="spacingAndGlyphs">Intensity (a.u.)</text><text x="2506.85" y="780.8" font-size="51.0" textLength="124.40" lengthAdjust="spacingAndGlyphs">2<tspan font-style="italic">&#977;</tspan> (&#176;)</text><use href="#sq" x="2722.6" y="61.5"/><text x="2749.82" y="78.0" font-size="51.0" textLength="148.06" lengthAdjust="spacingAndGlyphs"><tspan>Ti</tspan><tspan font-size="29.0" dy="10.7">3</tspan><tspan dy="-10.7">AlC</tspan><tspan font-size="29.0" dy="10.7">2</tspan></text><use href="#dia" x="2722.6" y="109.8"/><text x="2749.75" y="129.8" font-size="51.0" textLength="160.19" lengthAdjust="spacingAndGlyphs"><tspan>MXene</tspan></text><use href="#spade" x="2723.6" y="162.3"/><text x="2750.01" y="181.5" font-size="51.0" textLength="112.39" lengthAdjust="spacingAndGlyphs"><tspan>NH</tspan><tspan font-size="29.0" dy="10.7">4</tspan><tspan dy="-10.7">F</tspan></text><use href="#heart" x="2722.6" y="215.2"/><text x="2749.95" y="233.8" font-size="51.0" textLength="224.28" lengthAdjust="spacingAndGlyphs"><tspan>(NH</tspan><tspan font-size="29.0" dy="10.7">4</tspan><tspan dy="-10.7">)</tspan><tspan font-size="29.0" dy="10.7">3</tspan><tspan dy="-10.7">AlF</tspan><tspan font-size="29.0" dy="10.7">6</tspan></text><use href="#club" x="2722.6" y="268.8"/><text x="2750.91" y="285.2" font-size="51.0" textLength="219.42" lengthAdjust="spacingAndGlyphs"><tspan>AlF</tspan><tspan font-size="29.0" dy="10.7">3</tspan><tspan dy="-10.7">-3H</tspan><tspan font-size="29.0" dy="10.7">2</tspan><tspan dy="-10.7">O</tspan></text><use href="#dag" x="2722.6" y="317.0"/><text x="2749.66" y="337.0" font-size="51.0" textLength="207.85" lengthAdjust="spacingAndGlyphs"><tspan>(NH</tspan><tspan font-size="29.0" dy="10.7">4</tspan><tspan dy="-10.7">)AlF</tspan><tspan font-size="29.0" dy="10.7">4</tspan></text><use href="#tri" x="2722.6" y="373.8"/><text x="2750.91" y="388.8" font-size="51.0" textLength="85.98" lengthAdjust="spacingAndGlyphs"><tspan>AlF</tspan><tspan font-size="29.0" dy="10.7">3</tspan></text>
<use href="#dia" x="250.7" y="545.7"/><use href="#sq" x="291.6" y="478.0"/><use href="#heart" x="405.6" y="79.6"/><use href="#dag" x="422.7" y="493.0"/><use href="#heart" x="444.5" y="365.3"/><use href="#dia" x="463.7" y="521.7"/><use href="#tri" x="520.5" y="480.0"/><use href="#heart" x="564.4" y="376.4"/><use href="#club" x="592.7" y="536.5"/><use href="#heart" x="646.8" y="473.0"/><use href="#club" x="668.9" y="455.0"/><use href="#heart" x="726.8" y="148.0"/><use href="#club" x="744.9" y="377.0"/><use href="#tri" x="766.0" y="420.6"/><use href="#heart" x="867.3" y="545.7"/><use href="#club" x="890.1" y="536.5"/><use href="#heart" x="940.3" y="517.0"/><use href="#heart" x="1017.3" y="545.7"/><use href="#dia" transform="translate(1222.3,547.0) scale(0.92,0.935)"/><use href="#sq" x="1277.7" y="549.4"/><use href="#spade" x="1411.1" y="388.2"/><use href="#dia" transform="translate(1428.9,548.8) scale(0.95,1)"/><use href="#heart" x="1458.2" y="311.9"/><use href="#heart" x="1496.6" y="556.3"/><use href="#tri" transform="translate(1518.1,562.8) scale(0.945,1)"/><use href="#dag" x="1548.6" y="573.2"/><use href="#heart" x="1604.4" y="294.6"/><use href="#heart" x="1659.1" y="495.0"/><use href="#heart" x="1707.0" y="500.7"/><use href="#tri" x="1734.9" y="493.0"/><use href="#heart" x="1758.7" y="511.0"/><use href="#heart" x="1809.5" y="221.5"/><use href="#heart" x="1830.2" y="551.2"/><use href="#club" x="1851.4" y="581.4"/><use href="#spade" x="1896.7" y="515.7"/><use href="#spade" x="1934.2" y="522.7"/><use href="#sq" x="2201.6" y="496.2"/><use href="#dag" x="2240.9" y="512.3"/><use href="#heart" x="2314.4" y="165.7"/><use href="#heart" x="2353.2" y="321.9"/><use href="#dia" x="2372.1" y="511.0"/><use href="#spade" x="2426.0" y="509.8"/><use href="#heart" x="2485.5" y="321.9"/><use href="#spade" x="2552.8" y="360.4"/><use href="#heart" x="2583.0" y="444.1"/><use href="#club" x="2609.8" y="455.8"/><use href="#spade" x="2643.9" y="92.0"/><use href="#heart" x="2658.0" y="354.3"/><use href="#tri" x="2676.7" y="397.0"/><use href="#dag" x="2696.4" y="522.7"/><use href="#club" x="2726.9" y="520.9"/><use href="#heart" x="2800.2" y="503.8"/><use href="#heart" x="2846.7" y="495.0"/><use href="#club" x="2895.1" y="524.5"/><use href="#heart" x="2925.7" y="503.8"/>
</svg>
</body></html>
